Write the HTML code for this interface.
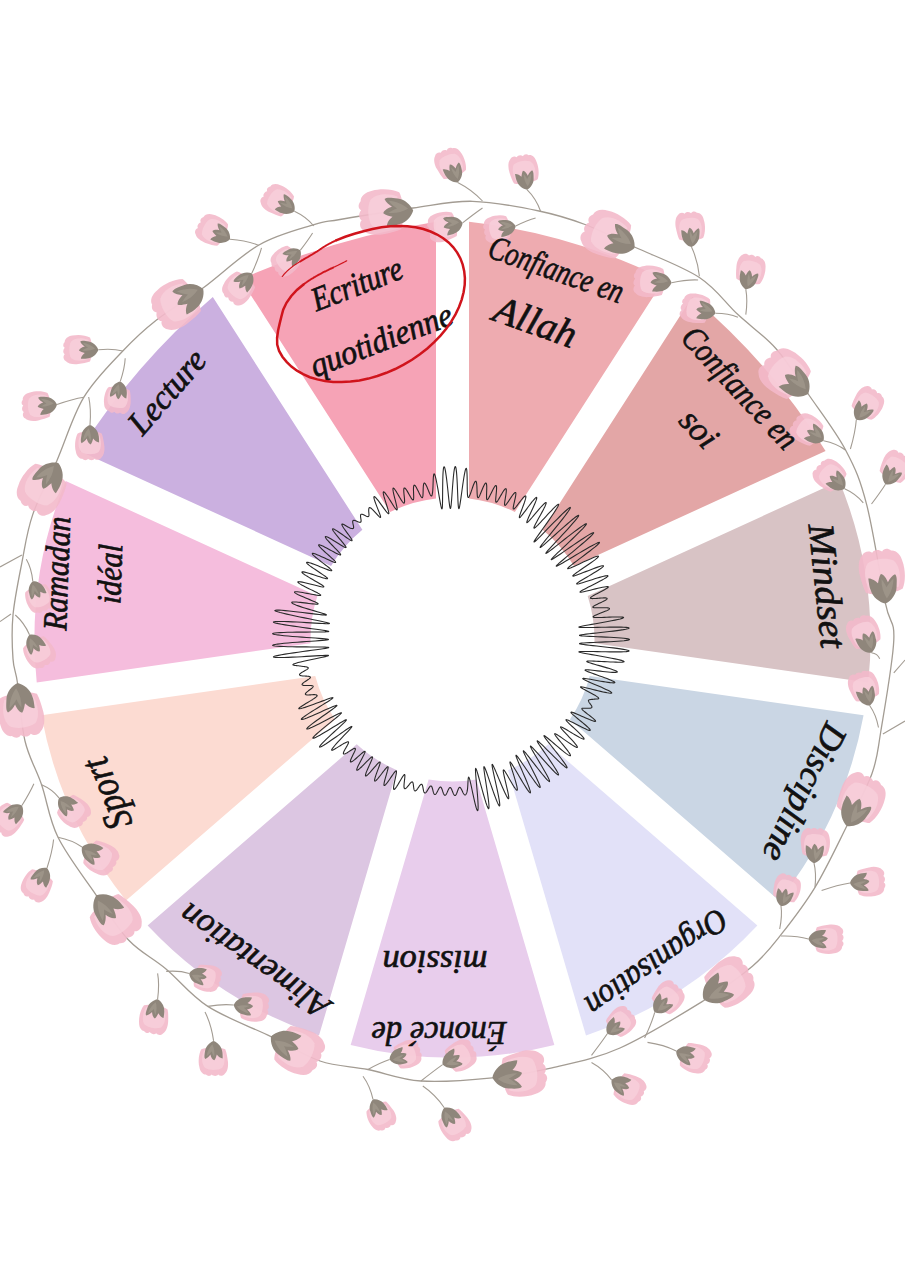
<!DOCTYPE html>
<html><head><meta charset="utf-8"><style>
html,body{margin:0;padding:0;background:#fff;width:905px;height:1280px;overflow:hidden}
svg{display:block}
</style></head><body>
<svg width="905" height="1280" viewBox="0 0 905 1280">
<rect width="905" height="1280" fill="#ffffff"/>
<path d="M469.00,498.46 L469.00,221.83 A600,600 0 0 1 664.43,279.21 L514.87,511.93 A142.0,142.0 0 0 0 469.00,498.46 Z" fill="#EEABB0"/>
<path d="M542.63,529.77 L692.19,297.05 A650,650 0 0 1 825.58,450.98 L573.94,565.90 A142.0,142.0 0 0 0 542.63,529.77 Z" fill="#E3A6A6"/>
<path d="M587.65,595.92 L839.28,481.00 A418.0,418.0 0 0 1 868.27,682.61 L594.45,643.24 A142.0,142.0 0 0 0 587.65,595.92 Z" fill="#D8C3C5"/>
<path d="M589.75,675.90 L863.57,715.27 A418.0,418.0 0 0 1 778.96,900.55 L569.89,719.39 A142.0,142.0 0 0 0 589.75,675.90 Z" fill="#CAD6E4"/>
<path d="M548.28,744.33 L757.35,925.49 A418.0,418.0 0 0 1 586.00,1035.61 L508.07,770.18 A142.0,142.0 0 0 0 548.28,744.33 Z" fill="#E2E1F8"/>
<path d="M476.40,779.47 L554.34,1044.90 A418.0,418.0 0 0 1 350.66,1044.90 L428.60,779.47 A142.0,142.0 0 0 0 476.40,779.47 Z" fill="#E8CDEC"/>
<path d="M396.93,770.18 L319.00,1035.61 A418.0,418.0 0 0 1 147.65,925.49 L356.72,744.33 A142.0,142.0 0 0 0 396.93,770.18 Z" fill="#DCC6E2"/>
<path d="M335.11,719.39 L126.04,900.55 A418.0,418.0 0 0 1 41.43,715.27 L315.25,675.90 A142.0,142.0 0 0 0 335.11,719.39 Z" fill="#FCDBD2"/>
<path d="M310.55,643.24 L36.73,682.61 A418.0,418.0 0 0 1 65.72,481.00 L317.35,595.92 A142.0,142.0 0 0 0 310.55,643.24 Z" fill="#F5BDDD"/>
<path d="M331.06,565.90 L79.42,450.98 A700,700 0 0 1 212.81,297.05 L362.37,529.77 A142.0,142.0 0 0 0 331.06,565.90 Z" fill="#CBB0E0"/>
<path d="M390.13,511.93 L240.57,279.21 A800,800 0 0 1 436.00,221.83 L436.00,498.46 A142.0,142.0 0 0 0 390.13,511.93 Z" fill="#F6A3B6"/>
<path d="M452.50,487.50 L452.77,483.96 L453.05,480.53 L453.35,477.29 L453.65,474.35 L453.96,471.78 L454.28,469.66 L454.59,468.06 L454.91,467.01 L455.22,466.54 L455.52,466.68 L455.80,467.42 L456.08,468.73 L456.33,470.58 L456.57,472.91 L456.79,475.66 L456.99,478.75 L457.17,482.10 L457.34,485.60 L457.49,489.16 L457.63,492.67 L457.76,496.04 L457.89,499.16 L458.02,501.96 L458.16,504.35 L458.32,506.25 L458.49,507.63 L458.68,508.44 L458.90,508.65 L459.15,508.26 L459.43,507.29 L459.74,505.75 L460.09,503.70 L460.47,501.20 L460.89,498.31 L461.33,495.12 L461.80,491.73 L462.28,488.22 L462.78,484.70 L463.29,481.27 L463.79,478.04 L464.28,475.10 L464.76,472.60 L465.20,470.61 L465.60,469.22 L465.96,468.46 L466.27,468.34 L466.53,468.85 L466.74,469.94 L466.90,471.55 L467.01,473.59 L467.10,475.96 L467.15,478.56 L467.18,481.26 L467.20,483.96 L467.23,486.57 L467.26,488.99 L467.31,491.17 L467.38,493.05 L467.47,494.61 L467.60,495.82 L467.76,496.69 L467.95,497.25 L468.18,497.51 L468.43,497.51 L468.70,497.29 L469.00,496.88 L469.32,496.31 L469.66,495.60 L470.01,494.77 L470.38,493.84 L470.77,492.79 L471.18,491.62 L471.60,490.37 L472.04,489.07 L472.48,487.77 L472.92,486.49 L473.35,485.28 L473.78,484.18 L474.19,483.21 L474.58,482.41 L474.94,481.80 L475.28,481.39 L475.59,481.20 L475.87,481.24 L476.11,481.51 L476.32,481.99 L476.50,482.69 L476.64,483.56 L476.76,484.61 L476.85,485.78 L476.92,487.06 L476.97,488.41 L477.02,489.79 L477.06,491.16 L477.10,492.48 L477.16,493.71 L477.23,494.84 L477.32,495.81 L477.44,496.61 L477.59,497.21 L477.78,497.60 L478.00,497.78 L478.27,497.72 L478.57,497.45 L478.92,496.96 L479.30,496.27 L479.73,495.41 L480.18,494.40 L480.66,493.27 L481.16,492.06 L481.67,490.80 L482.20,489.52 L482.72,488.27 L483.23,487.09 L483.73,486.00 L484.21,485.04 L484.65,484.25 L485.06,483.64 L485.43,483.23 L485.76,483.04 L486.04,483.07 L486.27,483.33 L486.45,483.80 L486.58,484.48 L486.68,485.34 L486.73,486.38 L486.75,487.54 L486.73,488.81 L486.70,490.16 L486.66,491.53 L486.61,492.90 L486.57,494.23 L486.54,495.48 L486.54,496.62 L486.56,497.61 L486.63,498.44 L486.73,499.08 L486.89,499.50 L487.09,499.71 L487.36,499.70 L487.67,499.47 L488.04,499.03 L488.47,498.39 L488.94,497.58 L489.45,496.62 L490.00,495.53 L490.58,494.36 L491.17,493.14 L491.77,491.90 L492.38,490.68 L492.97,489.52 L493.54,488.46 L494.08,487.52 L494.58,486.73 L495.03,486.13 L495.44,485.72 L495.78,485.53 L496.06,485.55 L496.28,485.80 L496.44,486.26 L496.54,486.92 L496.58,487.77 L496.57,488.79 L496.52,489.94 L496.43,491.20 L496.31,492.53 L496.18,493.90 L496.05,495.26 L495.92,496.59 L495.81,497.85 L495.72,499.00 L495.68,500.01 L495.68,500.86 L495.74,501.52 L495.86,501.98 L496.04,502.23 L496.30,502.26 L496.62,502.08 L497.01,501.68 L497.47,501.09 L497.99,500.33 L498.56,499.42 L499.17,498.39 L499.82,497.26 L500.49,496.08 L501.17,494.88 L501.85,493.70 L502.52,492.58 L503.16,491.54 L503.76,490.62 L504.32,489.85 L504.82,489.26 L505.25,488.86 L505.62,488.66 L505.91,488.68 L506.12,488.91 L506.26,489.36 L506.32,490.01 L506.31,490.84 L506.25,491.83 L506.12,492.97 L505.96,494.21 L505.76,495.52 L505.54,496.88 L505.32,498.23 L505.10,499.56 L504.90,500.81 L504.74,501.97 L504.63,502.99 L504.57,503.86 L504.57,504.55 L504.66,505.04 L504.81,505.32 L505.06,505.39 L505.38,505.25 L505.79,504.90 L506.28,504.37 L506.83,503.66 L507.45,502.80 L508.13,501.82 L508.84,500.75 L509.58,499.62 L510.34,498.47 L511.10,497.33 L511.84,496.24 L512.55,495.24 L513.22,494.35 L513.83,493.60 L514.38,493.02 L514.85,492.62 L515.23,492.43 L515.53,492.44 L515.74,492.66 L515.86,493.09 L515.89,493.72 L515.84,494.53 L515.71,495.50 L515.52,496.61 L515.28,497.83 L515.00,499.12 L514.70,500.46 L514.39,501.80 L514.08,503.11 L513.80,504.36 L513.56,505.52 L513.37,506.55 L513.25,507.43 L513.20,508.13 L513.24,508.65 L513.37,508.96 L513.60,509.07 L513.92,508.98 L514.34,508.68 L514.85,508.20 L515.44,507.54 L516.11,506.74 L516.84,505.82 L517.61,504.81 L518.43,503.73 L519.25,502.63 L520.09,501.54 L520.91,500.48 L521.71,499.47 L522.47,498.54 L523.19,497.71 L523.85,497.01 L524.44,496.46 L524.95,496.08 L525.36,495.89 L525.65,495.93 L525.83,496.19 L525.89,496.70 L525.82,497.45 L525.62,498.45 L525.29,499.67 L524.85,501.10 L524.32,502.71 L523.70,504.45 L523.03,506.28 L522.34,508.15 L521.65,510.00 L521.00,511.76 L520.41,513.37 L519.93,514.79 L519.57,515.97 L519.37,516.85 L519.34,517.41 L519.50,517.62 L519.85,517.49 L520.39,517.02 L521.10,516.25 L521.97,515.20 L522.98,513.91 L524.10,512.43 L525.32,510.80 L526.60,509.07 L527.91,507.29 L529.23,505.52 L530.53,503.81 L531.76,502.21 L532.91,500.78 L533.95,499.55 L534.85,498.57 L535.60,497.87 L536.17,497.46 L536.55,497.38 L536.75,497.61 L536.75,498.17 L536.57,499.03 L536.21,500.18 L535.69,501.59 L535.03,503.22 L534.25,505.04 L533.39,506.98 L532.46,509.01 L531.51,511.06 L530.57,513.09 L529.67,515.04 L528.84,516.85 L528.12,518.48 L527.53,519.89 L527.10,521.04 L526.84,521.90 L526.78,522.45 L526.92,522.68 L527.27,522.58 L527.83,522.17 L528.58,521.45 L529.52,520.45 L530.62,519.21 L531.86,517.76 L533.22,516.14 L534.66,514.42 L536.15,512.64 L537.64,510.86 L539.12,509.13 L540.53,507.51 L541.84,506.05 L543.02,504.79 L544.05,503.78 L544.89,503.04 L545.53,502.61 L545.96,502.50 L546.16,502.71 L546.14,503.26 L545.90,504.11 L545.45,505.27 L544.81,506.68 L544.01,508.33 L543.07,510.16 L542.02,512.13 L540.90,514.18 L539.76,516.26 L538.62,518.32 L537.53,520.30 L536.52,522.14 L535.64,523.80 L534.91,525.24 L534.36,526.41 L534.02,527.30 L533.89,527.89 L533.97,528.19 L534.26,528.19 L534.78,527.89 L535.52,527.30 L536.48,526.42 L537.64,525.28 L538.99,523.89 L540.51,522.28 L542.18,520.49 L543.97,518.56 L545.84,516.53 L547.74,514.48 L549.64,512.45 L551.48,510.51 L553.21,508.72 L554.78,507.16 L556.15,505.88 L557.25,504.94 L558.06,504.39 L558.53,504.28 L558.64,504.62 L558.37,505.44 L557.73,506.74 L556.71,508.48 L555.36,510.65 L553.69,513.19 L551.77,516.04 L549.64,519.11 L547.39,522.33 L545.08,525.58 L542.80,528.78 L540.63,531.82 L538.66,534.61 L536.95,537.06 L535.57,539.08 L534.59,540.62 L534.05,541.62 L533.98,542.06 L534.38,541.92 L535.25,541.24 L536.55,540.04 L538.26,538.37 L540.34,536.29 L542.73,533.85 L545.38,531.14 L548.20,528.24 L551.14,525.23 L554.10,522.21 L557.02,519.27 L559.81,516.49 L562.39,513.97 L564.71,511.77 L566.69,509.97 L568.29,508.62 L569.46,507.76 L570.18,507.42 L570.42,507.61 L570.19,508.33 L569.49,509.57 L568.35,511.29 L566.80,513.44 L564.90,515.97 L562.70,518.82 L560.27,521.89 L557.68,525.12 L555.02,528.40 L552.36,531.66 L549.79,534.81 L547.38,537.75 L545.22,540.42 L543.36,542.74 L541.88,544.65 L540.82,546.11 L540.21,547.07 L540.08,547.53 L540.45,547.47 L541.31,546.89 L542.63,545.84 L544.40,544.33 L546.57,542.43 L549.08,540.19 L551.86,537.68 L554.85,534.98 L557.97,532.17 L561.12,529.35 L564.23,526.59 L567.22,523.98 L569.99,521.60 L572.48,519.52 L574.62,517.81 L576.35,516.51 L577.63,515.67 L578.42,515.32 L578.71,515.47 L578.49,516.12 L577.77,517.26 L576.57,518.85 L574.93,520.85 L572.91,523.22 L570.56,525.88 L567.96,528.78 L565.19,531.81 L562.32,534.92 L559.45,538.01 L556.67,540.99 L554.05,543.80 L551.69,546.36 L549.65,548.59 L547.99,550.45 L546.78,551.89 L546.06,552.86 L545.84,553.36 L546.15,553.38 L546.99,552.92 L548.33,552.00 L550.14,550.66 L552.38,548.94 L554.99,546.89 L557.90,544.60 L561.04,542.11 L564.32,539.52 L567.65,536.91 L570.94,534.34 L574.11,531.91 L577.06,529.69 L579.72,527.74 L582.01,526.12 L583.87,524.90 L585.26,524.09 L586.13,523.74 L586.47,523.86 L586.27,524.44 L585.53,525.48 L584.29,526.94 L582.58,528.79 L580.45,530.99 L577.97,533.47 L575.21,536.16 L572.26,539.01 L569.21,541.92 L566.14,544.82 L563.15,547.63 L560.34,550.29 L557.78,552.72 L555.55,554.85 L553.74,556.64 L552.38,558.04 L551.53,559.02 L551.22,559.55 L551.47,559.64 L552.27,559.28 L553.60,558.50 L555.44,557.32 L557.74,555.79 L560.44,553.95 L563.46,551.87 L566.73,549.61 L570.16,547.24 L573.65,544.85 L577.11,542.49 L580.45,540.25 L583.57,538.20 L586.39,536.39 L588.82,534.89 L590.82,533.75 L592.31,532.99 L593.27,532.65 L593.67,532.74 L593.49,533.26 L592.75,534.19 L591.48,535.53 L589.70,537.23 L587.48,539.25 L584.89,541.54 L581.99,544.03 L578.88,546.66 L575.65,549.37 L572.40,552.07 L569.22,554.70 L566.21,557.19 L563.47,559.47 L561.06,561.49 L559.08,563.19 L557.58,564.55 L556.61,565.51 L556.20,566.08 L556.37,566.22 L557.13,565.96 L558.45,565.31 L560.31,564.29 L562.65,562.95 L565.41,561.31 L568.53,559.46 L571.92,557.43 L575.47,555.30 L579.11,553.13 L582.73,551.00 L586.22,548.96 L589.50,547.09 L592.45,545.46 L594.98,544.12 L597.01,543.13 L598.46,542.52 L599.32,542.32 L599.55,542.54 L599.18,543.15 L598.22,544.14 L596.74,545.47 L594.81,547.09 L592.50,548.93 L589.91,550.95 L587.14,553.06 L584.29,555.22 L581.45,557.35 L578.72,559.40 L576.17,561.32 L573.88,563.06 L571.90,564.60 L570.27,565.91 L569.02,566.97 L568.17,567.78 L567.72,568.34 L567.66,568.65 L567.99,568.73 L568.68,568.58 L569.71,568.24 L571.05,567.71 L572.67,567.01 L574.54,566.17 L576.63,565.21 L578.91,564.15 L581.31,563.02 L583.77,561.87 L586.22,560.74 L588.59,559.65 L590.83,558.67 L592.87,557.80 L594.65,557.10 L596.14,556.57 L597.28,556.25 L598.05,556.14 L598.43,556.26 L598.41,556.61 L598.00,557.18 L597.21,557.96 L596.06,558.94 L594.60,560.08 L592.87,561.37 L590.91,562.78 L588.79,564.26 L586.58,565.79 L584.33,567.32 L582.13,568.82 L580.03,570.26 L578.09,571.59 L576.39,572.79 L574.96,573.84 L573.87,574.70 L573.13,575.36 L572.78,575.82 L572.83,576.06 L573.28,576.09 L574.13,575.91 L575.36,575.55 L576.92,575.00 L578.80,574.31 L580.92,573.50 L583.25,572.59 L585.70,571.63 L588.23,570.64 L590.75,569.66 L593.20,568.73 L595.52,567.88 L597.64,567.14 L599.50,566.53 L601.05,566.08 L602.25,565.81 L603.07,565.74 L603.49,565.86 L603.50,566.18 L603.09,566.70 L602.30,567.41 L601.13,568.29 L599.63,569.32 L597.85,570.48 L595.83,571.75 L593.63,573.09 L591.33,574.47 L588.99,575.85 L586.69,577.21 L584.48,578.52 L582.44,579.73 L580.63,580.84 L579.11,581.80 L577.92,582.61 L577.10,583.24 L576.67,583.70 L576.66,583.96 L577.06,584.04 L577.88,583.94 L579.08,583.67 L580.64,583.25 L582.52,582.70 L584.67,582.03 L587.02,581.29 L589.53,580.49 L592.11,579.66 L594.69,578.85 L597.21,578.07 L599.60,577.36 L601.79,576.75 L603.71,576.25 L605.33,575.88 L606.59,575.68 L607.46,575.63 L607.91,575.76 L607.95,576.06 L607.56,576.54 L606.77,577.17 L605.59,577.96 L604.06,578.88 L602.23,579.91 L600.16,581.04 L597.90,582.22 L595.53,583.45 L593.10,584.68 L590.71,585.89 L588.40,587.06 L586.27,588.15 L584.36,589.15 L582.74,590.03 L581.46,590.77 L580.55,591.37 L580.05,591.81 L579.97,592.09 L580.32,592.22 L581.10,592.19 L582.27,592.01 L583.82,591.70 L585.71,591.28 L587.89,590.76 L590.30,590.16 L592.83,589.53 L595.40,588.90 L597.92,588.29 L600.30,587.74 L602.47,587.28 L604.35,586.92 L605.90,586.68 L607.08,586.58 L607.87,586.61 L608.27,586.77 L608.30,587.07 L607.97,587.48 L607.33,587.99 L606.43,588.59 L605.31,589.26 L604.03,589.97 L602.65,590.71 L601.21,591.47 L599.76,592.22 L598.34,592.96 L596.98,593.67 L595.70,594.35 L594.54,594.99 L593.49,595.59 L592.57,596.14 L591.80,596.65 L591.17,597.11 L590.71,597.51 L590.46,597.85 L590.43,598.12 L590.61,598.33 L591.01,598.47 L591.62,598.56 L592.41,598.59 L593.38,598.57 L594.50,598.51 L595.73,598.43 L597.05,598.33 L598.41,598.21 L599.78,598.10 L601.13,598.00 L602.41,597.93 L603.60,597.88 L604.65,597.88 L605.55,597.92 L606.27,598.01 L606.78,598.16 L607.09,598.37 L607.17,598.63 L607.03,598.96 L606.68,599.34 L606.12,599.77 L605.37,600.25 L604.47,600.76 L603.42,601.31 L602.28,601.88 L601.07,602.46 L599.82,603.04 L598.58,603.62 L597.38,604.18 L596.26,604.72 L595.25,605.23 L594.38,605.70 L593.69,606.12 L593.18,606.50 L592.89,606.83 L592.81,607.11 L592.96,607.33 L593.32,607.51 L593.90,607.63 L594.67,607.72 L595.62,607.77 L596.72,607.79 L597.94,607.79 L599.26,607.77 L600.62,607.75 L602.00,607.72 L603.35,607.71 L604.65,607.71 L605.85,607.74 L606.92,607.80 L607.83,607.90 L608.56,608.03 L609.09,608.21 L609.40,608.43 L609.49,608.70 L609.36,609.01 L609.00,609.36 L608.44,609.75 L607.69,610.18 L606.77,610.63 L605.71,611.10 L604.54,611.60 L603.30,612.10 L602.02,612.60 L600.74,613.10 L599.50,613.58 L598.32,614.05 L597.21,614.50 L596.19,614.94 L595.27,615.35 L594.48,615.74 L593.84,616.10 L593.38,616.43 L593.13,616.72 L593.13,616.98 L593.40,617.18 L593.97,617.35 L594.87,617.46 L596.10,617.53 L597.67,617.55 L599.55,617.52 L601.72,617.46 L604.13,617.38 L606.73,617.27 L609.43,617.16 L612.16,617.06 L614.81,616.98 L617.28,616.93 L619.47,616.93 L621.28,616.98 L622.62,617.10 L623.41,617.30 L623.59,617.58 L623.13,617.94 L622.01,618.39 L620.23,618.91 L617.84,619.49 L614.90,620.14 L611.49,620.82 L607.73,621.54 L603.73,622.27 L599.65,622.99 L595.61,623.70 L591.76,624.37 L588.25,624.99 L585.19,625.55 L582.68,626.05 L580.76,626.47 L579.50,626.82 L578.93,627.10 L579.08,627.31 L579.92,627.45 L581.46,627.54 L583.63,627.57 L586.38,627.55 L589.64,627.50 L593.30,627.43 L597.27,627.34 L601.43,627.26 L605.66,627.18 L609.85,627.12 L613.87,627.08 L617.61,627.09 L620.97,627.13 L623.84,627.22 L626.15,627.36 L627.83,627.55 L628.83,627.79 L629.13,628.08 L628.71,628.41 L627.59,628.79 L625.80,629.20 L623.40,629.65 L620.44,630.11 L617.02,630.59 L613.24,631.08 L609.20,631.56 L605.02,632.04 L600.81,632.51 L596.71,632.95 L592.82,633.37 L589.26,633.77 L586.14,634.13 L583.53,634.47 L581.52,634.77 L580.16,635.04 L579.50,635.29 L579.55,635.51 L580.31,635.71 L581.76,635.89 L583.85,636.06 L586.54,636.22 L589.73,636.39 L593.35,636.55 L597.29,636.72 L601.43,636.90 L605.66,637.09 L609.85,637.30 L613.89,637.53 L617.66,637.77 L621.06,638.03 L623.98,638.30 L626.34,638.59 L628.08,638.89 L629.14,639.19 L629.50,639.50 L629.14,639.81 L628.08,640.11 L626.34,640.41 L623.98,640.70 L621.06,640.97 L617.66,641.23 L613.89,641.47 L609.85,641.70 L605.66,641.91 L601.43,642.10 L597.29,642.28 L593.35,642.45 L589.73,642.61 L586.54,642.78 L583.85,642.94 L581.76,643.11 L580.31,643.29 L579.55,643.49 L579.50,643.71 L580.16,643.96 L581.52,644.23 L583.53,644.53 L586.14,644.87 L589.26,645.23 L592.82,645.63 L596.71,646.05 L600.81,646.49 L605.02,646.96 L609.20,647.44 L613.24,647.92 L617.02,648.41 L620.44,648.89 L623.40,649.35 L625.80,649.80 L627.59,650.21 L628.71,650.59 L629.13,650.92 L628.83,651.21 L627.83,651.45 L626.15,651.64 L623.84,651.78 L620.97,651.87 L617.61,651.91 L613.87,651.92 L609.85,651.88 L605.66,651.82 L601.43,651.74 L597.27,651.66 L593.30,651.57 L589.64,651.50 L586.38,651.45 L583.63,651.43 L581.46,651.46 L579.92,651.55 L579.08,651.69 L578.93,651.90 L579.50,652.18 L580.76,652.53 L582.68,652.95 L585.19,653.45 L588.25,654.01 L591.76,654.63 L595.60,655.30 L599.64,656.00 L603.73,656.73 L607.74,657.46 L611.52,658.18 L614.96,658.87 L617.95,659.52 L620.41,660.12 L622.27,660.65 L623.49,661.10 L624.07,661.48 L624.01,661.78 L623.35,661.99 L622.13,662.13 L620.42,662.20 L618.29,662.21 L615.83,662.16 L613.13,662.07 L610.26,661.95 L607.31,661.81 L604.36,661.65 L601.47,661.50 L598.72,661.35 L596.15,661.22 L593.81,661.12 L591.74,661.06 L589.98,661.03 L588.55,661.05 L587.50,661.12 L586.89,661.27 L586.72,661.48 L587.01,661.77 L587.73,662.13 L588.88,662.57 L590.41,663.07 L592.27,663.64 L594.43,664.27 L596.80,664.94 L599.33,665.65 L601.93,666.39 L604.54,667.13 L607.07,667.87 L609.46,668.59 L611.63,669.28 L613.52,669.93 L615.08,670.51 L616.25,671.03 L617.01,671.48 L617.33,671.84 L617.20,672.11 L616.63,672.30 L615.62,672.39 L614.21,672.40 L612.44,672.33 L610.35,672.19 L608.01,671.99 L605.47,671.74 L602.81,671.45 L600.11,671.15 L597.44,670.84 L594.88,670.54 L592.49,670.28 L590.34,670.06 L588.50,669.90 L587.01,669.81 L585.92,669.81 L585.25,669.90 L585.02,670.09 L585.23,670.39 L585.88,670.78 L586.95,671.28 L588.40,671.88 L590.20,672.56 L592.28,673.32 L594.58,674.14 L597.04,675.00 L599.59,675.90 L602.15,676.81 L604.64,677.71 L606.99,678.59 L609.14,679.43 L611.02,680.20 L612.58,680.90 L613.76,681.50 L614.53,682.01 L614.88,682.40 L614.79,682.68 L614.25,682.84 L613.29,682.88 L611.92,682.81 L610.20,682.64 L608.15,682.37 L605.85,682.03 L603.35,681.62 L600.73,681.17 L598.06,680.69 L595.41,680.21 L592.85,679.74 L590.46,679.32 L588.30,678.95 L586.44,678.67 L584.92,678.47 L583.78,678.39 L583.06,678.42 L582.76,678.58 L582.91,678.87 L583.49,679.30 L584.48,679.85 L585.85,680.52 L587.55,681.31 L589.55,682.19 L591.78,683.15 L594.16,684.17 L596.64,685.22 L599.14,686.30 L601.58,687.36 L603.89,688.40 L606.00,689.38 L607.86,690.28 L609.41,691.09 L610.59,691.78 L611.38,692.35 L611.75,692.78 L611.68,693.07 L611.19,693.21 L610.27,693.21 L608.96,693.07 L607.28,692.80 L605.29,692.41 L603.05,691.93 L600.60,691.36 L598.02,690.75 L595.39,690.10 L592.77,689.45 L590.23,688.81 L587.85,688.23 L585.69,687.72 L583.82,687.30 L582.30,687.00 L581.22,686.86 L580.62,686.89 L580.50,687.10 L580.86,687.49 L581.66,688.05 L582.84,688.75 L584.34,689.58 L586.06,690.50 L587.92,691.48 L589.83,692.49 L591.69,693.49 L593.43,694.45 L594.98,695.34 L596.29,696.14 L597.32,696.84 L598.06,697.43 L598.51,697.90 L598.70,698.27 L598.64,698.54 L598.38,698.74 L597.97,698.87 L597.45,698.95 L596.85,699.00 L596.23,699.04 L595.61,699.07 L595.00,699.11 L594.42,699.16 L593.86,699.21 L593.32,699.27 L592.76,699.33 L592.19,699.37 L591.62,699.41 L591.07,699.46 L590.54,699.52 L590.05,699.59 L589.61,699.69 L589.23,699.81 L588.92,699.95 L588.68,700.13 L588.51,700.34 L588.43,700.59 L588.42,700.87 L588.49,701.19 L588.62,701.53 L588.82,701.91 L589.07,702.31 L589.36,702.74 L589.68,703.18 L590.02,703.63 L590.37,704.08 L590.71,704.54 L591.03,704.98 L591.31,705.41 L591.56,705.83 L591.74,706.21 L591.87,706.57 L591.93,706.90 L591.91,707.19 L591.81,707.45 L591.64,707.66 L591.39,707.84 L591.07,707.98 L590.68,708.09 L590.24,708.17 L589.74,708.23 L589.21,708.26 L588.66,708.28 L588.09,708.29 L587.51,708.29 L586.95,708.30 L586.38,708.30 L585.79,708.30 L585.19,708.28 L584.58,708.26 L583.97,708.23 L583.39,708.22 L582.85,708.22 L582.39,708.27 L582.04,708.38 L581.84,708.56 L581.82,708.84 L582.01,709.23 L582.42,709.74 L583.05,710.38 L583.92,711.15 L584.98,712.03 L586.22,713.02 L587.59,714.07 L589.03,715.18 L590.48,716.30 L591.86,717.39 L593.12,718.41 L594.17,719.33 L594.97,720.11 L595.46,720.71 L595.61,721.13 L595.40,721.34 L594.82,721.34 L593.89,721.13 L592.66,720.75 L591.18,720.21 L589.50,719.56 L587.66,718.80 L585.70,717.96 L583.68,717.08 L581.66,716.19 L579.69,715.32 L577.81,714.50 L576.08,713.76 L574.55,713.13 L573.25,712.63 L572.22,712.29 L571.48,712.13 L571.05,712.15 L570.94,712.36 L571.13,712.77 L571.64,713.37 L572.43,714.15 L573.47,715.09 L574.74,716.18 L576.20,717.40 L577.79,718.70 L579.46,720.07 L581.17,721.47 L582.87,722.87 L584.49,724.24 L585.99,725.53 L587.33,726.72 L588.45,727.79 L589.33,728.70 L589.94,729.44 L590.25,729.98 L590.25,730.33 L589.94,730.47 L589.33,730.41 L588.43,730.15 L587.25,729.71 L585.84,729.10 L584.22,728.35 L582.45,727.48 L580.56,726.53 L578.61,725.53 L576.65,724.51 L574.72,723.50 L572.89,722.55 L571.20,721.69 L569.69,720.95 L568.40,720.35 L567.36,719.93 L566.60,719.69 L566.13,719.66 L565.97,719.84 L566.11,720.24 L566.54,720.84 L567.25,721.65 L568.20,722.64 L569.38,723.79 L570.73,725.09 L572.22,726.48 L573.80,727.95 L575.41,729.46 L577.02,730.97 L578.56,732.44 L579.99,733.84 L581.26,735.13 L582.34,736.28 L583.19,737.27 L583.78,738.07 L584.08,738.66 L584.10,739.03 L583.82,739.17 L583.24,739.10 L582.39,738.81 L581.27,738.31 L579.93,737.63 L578.38,736.79 L576.68,735.83 L574.87,734.76 L572.99,733.64 L571.10,732.49 L569.24,731.36 L567.46,730.29 L565.81,729.31 L564.33,728.45 L563.05,727.75 L562.01,727.24 L561.24,726.93 L560.74,726.84 L560.54,726.99 L560.62,727.36 L560.98,727.97 L561.60,728.80 L562.47,729.83 L563.54,731.04 L564.79,732.40 L566.18,733.88 L567.65,735.44 L569.16,737.04 L570.67,738.65 L572.12,740.23 L573.47,741.73 L574.68,743.11 L575.70,744.35 L576.51,745.41 L577.07,746.27 L577.37,746.91 L577.40,747.31 L577.14,747.46 L576.60,747.38 L575.79,747.06 L574.74,746.51 L573.46,745.77 L572.00,744.85 L570.38,743.79 L568.65,742.62 L566.85,741.38 L565.04,740.12 L563.25,738.87 L561.53,737.67 L559.93,736.57 L558.49,735.60 L557.23,734.80 L556.21,734.20 L555.43,733.81 L554.91,733.67 L554.66,733.77 L554.68,734.12 L554.97,734.72 L555.52,735.56 L556.29,736.62 L557.26,737.88 L558.41,739.30 L559.68,740.85 L561.04,742.50 L562.44,744.20 L563.85,745.90 L565.20,747.58 L566.46,749.17 L567.60,750.65 L568.57,751.98 L569.37,753.15 L569.97,754.13 L570.35,754.91 L570.50,755.46 L570.40,755.77 L570.04,755.82 L569.41,755.60 L568.52,755.11 L567.36,754.36 L565.94,753.34 L564.30,752.08 L562.46,750.61 L560.45,748.97 L558.33,747.20 L556.15,745.35 L553.98,743.49 L551.87,741.68 L549.88,739.99 L548.10,738.49 L546.57,737.25 L545.35,736.32 L544.48,735.75 L543.99,735.58 L543.91,735.83 L544.24,736.51 L544.96,737.61 L546.04,739.11 L547.45,740.97 L549.14,743.13 L551.02,745.52 L553.04,748.08 L555.13,750.72 L557.22,753.38 L559.25,756.00 L561.16,758.50 L562.88,760.81 L564.36,762.87 L565.56,764.63 L566.43,766.04 L566.95,767.06 L567.10,767.67 L566.87,767.86 L566.25,767.63 L565.28,766.97 L563.96,765.92 L562.33,764.52 L560.44,762.80 L558.33,760.81 L556.06,758.63 L553.68,756.31 L551.27,753.93 L548.89,751.56 L546.58,749.27 L544.43,747.14 L542.48,745.22 L540.77,743.59 L539.36,742.29 L538.28,741.37 L537.54,740.85 L537.17,740.77 L537.17,741.12 L537.52,741.91 L538.22,743.11 L539.23,744.71 L540.52,746.65 L542.04,748.90 L543.75,751.39 L545.59,754.05 L547.50,756.81 L549.42,759.61 L551.28,762.36 L553.04,764.99 L554.63,767.43 L556.00,769.62 L557.12,771.49 L557.93,773.00 L558.42,774.10 L558.57,774.78 L558.36,775.00 L557.81,774.77 L556.91,774.11 L555.70,773.02 L554.20,771.55 L552.44,769.75 L550.49,767.66 L548.38,765.35 L546.17,762.90 L543.91,760.37 L541.68,757.84 L539.52,755.40 L537.49,753.11 L535.64,751.04 L534.02,749.26 L532.66,747.83 L531.60,746.80 L530.87,746.18 L530.46,746.02 L530.40,746.32 L530.66,747.08 L531.25,748.28 L532.12,749.90 L533.25,751.88 L534.61,754.19 L536.14,756.75 L537.79,759.51 L539.51,762.39 L541.24,765.30 L542.94,768.18 L544.53,770.93 L545.98,773.50 L547.23,775.81 L548.25,777.79 L549.00,779.39 L549.46,780.57 L549.59,781.30 L549.41,781.57 L548.91,781.36 L548.09,780.69 L546.98,779.57 L545.61,778.06 L544.00,776.18 L542.20,774.00 L540.26,771.58 L538.22,769.00 L536.13,766.34 L534.06,763.67 L532.06,761.07 L530.16,758.63 L528.43,756.42 L526.90,754.51 L525.61,752.95 L524.59,751.79 L523.86,751.08 L523.43,750.84 L523.31,751.08 L523.50,751.80 L523.97,752.99 L524.71,754.61 L525.69,756.62 L526.87,758.98 L528.21,761.61 L529.67,764.45 L531.20,767.42 L532.74,770.44 L534.25,773.43 L535.68,776.30 L536.97,778.98 L538.10,781.40 L539.01,783.48 L539.69,785.18 L540.09,786.44 L540.22,787.23 L540.05,787.54 L539.59,787.35 L538.85,786.68 L537.85,785.55 L536.60,783.99 L535.14,782.06 L533.50,779.80 L531.73,777.28 L529.87,774.59 L527.97,771.80 L526.07,769.00 L524.22,766.27 L522.48,763.69 L520.87,761.34 L519.45,759.29 L518.24,757.61 L517.27,756.34 L516.55,755.53 L516.11,755.21 L515.94,755.38 L516.05,756.06 L516.41,757.22 L517.02,758.83 L517.85,760.86 L518.85,763.25 L520.01,765.93 L521.27,768.84 L522.60,771.89 L523.94,775.01 L525.26,778.09 L526.51,781.07 L527.65,783.86 L528.63,786.38 L529.43,788.56 L530.02,790.34 L530.37,791.68 L530.47,792.53 L530.32,792.89 L529.90,792.73 L529.24,792.07 L528.33,790.93 L527.21,789.34 L525.90,787.35 L524.42,785.03 L522.83,782.43 L521.16,779.64 L519.44,776.74 L517.73,773.83 L516.08,771.02 L514.55,768.43 L513.20,766.19 L512.06,764.37 L511.16,763.03 L510.51,762.22 L510.11,761.93 L509.95,762.14 L510.00,762.81 L510.24,763.88 L510.62,765.28 L511.11,766.92 L511.67,768.75 L512.28,770.68 L512.91,772.68 L513.55,774.70 L514.16,776.71 L514.76,778.69 L515.34,780.64 L515.88,782.52 L516.36,784.29 L516.77,785.90 L517.08,787.31 L517.27,788.47 L517.35,789.36 L517.30,789.95 L517.11,790.24 L516.78,790.21 L516.32,789.86 L515.74,789.22 L515.05,788.29 L514.25,787.12 L513.37,785.73 L512.43,784.17 L511.44,782.49 L510.42,780.73 L509.41,778.96 L508.42,777.21 L507.47,775.55 L506.58,774.03 L505.77,772.70 L505.06,771.58 L504.46,770.73 L503.97,770.16 L503.61,769.91 L503.37,769.96 L503.25,770.34 L503.25,771.03 L503.37,772.01 L503.57,773.24 L503.85,774.69 L504.21,776.34 L504.62,778.16 L505.08,780.13 L505.58,782.22 L506.10,784.39 L506.62,786.60 L507.14,788.81 L507.62,790.94 L508.05,792.94 L508.39,794.75 L508.64,796.29 L508.76,797.51 L508.74,798.33 L508.57,798.71 L508.22,798.62 L507.70,798.02 L507.01,796.91 L506.15,795.31 L505.14,793.25 L504.00,790.79 L502.76,787.99 L501.45,784.96 L500.11,781.79 L498.77,778.60 L497.48,775.51 L496.27,772.62 L495.17,770.05 L494.22,767.90 L493.43,766.23 L492.81,765.06 L492.37,764.44 L492.12,764.39 L492.04,764.91 L492.14,765.99 L492.40,767.60 L492.80,769.70 L493.33,772.23 L493.96,775.12 L494.67,778.29 L495.42,781.66 L496.19,785.12 L496.95,788.59 L497.66,791.96 L498.31,795.14 L498.86,798.05 L499.30,800.59 L499.61,802.70 L499.76,804.33 L499.76,805.42 L499.60,805.94 L499.27,805.89 L498.78,805.26 L498.14,804.08 L497.36,802.38 L496.46,800.21 L495.46,797.63 L494.38,794.72 L493.25,791.57 L492.08,788.26 L490.92,784.90 L489.77,781.58 L488.68,778.39 L487.66,775.44 L486.73,772.80 L485.91,770.56 L485.21,768.78 L484.66,767.52 L484.24,766.81 L483.97,766.67 L483.85,767.12 L483.86,768.14 L484.00,769.71 L484.26,771.77 L484.61,774.29 L485.04,777.17 L485.54,780.36 L486.07,783.75 L486.61,787.25 L487.14,790.76 L487.64,794.19 L488.09,797.43 L488.47,800.40 L488.75,803.01 L488.93,805.19 L489.00,806.88 L488.94,808.03 L488.75,808.61 L488.44,808.61 L488.01,808.02 L487.46,806.86 L486.81,805.17 L486.06,802.99 L485.24,800.40 L484.35,797.46 L483.42,794.26 L482.48,790.90 L481.53,787.47 L480.60,784.07 L479.71,780.80 L478.87,777.75 L478.11,775.02 L477.42,772.68 L476.84,770.81 L476.35,769.45 L475.97,768.65 L475.70,768.43 L475.53,768.80 L475.47,769.76 L475.50,771.27 L475.61,773.29 L475.79,775.77 L476.03,778.65 L476.32,781.82 L476.62,785.22 L476.94,788.74 L477.25,792.29 L477.53,795.75 L477.77,799.05 L477.96,802.07 L478.08,804.74 L478.13,806.98 L478.09,808.73 L477.97,809.94 L477.76,810.57 L477.46,810.61 L477.08,810.06 L476.61,808.93 L476.08,807.26 L475.47,805.06 L474.81,802.39 L474.11,799.36 L473.40,796.10 L472.68,792.77 L471.98,789.50 L471.32,786.42 L470.71,783.66 L470.16,781.31 L469.68,779.46 L469.28,778.14 L468.94,777.37 L468.67,777.14 L468.46,777.40 L468.29,778.10 L468.17,779.16 L468.07,780.49 L467.98,781.99 L467.90,783.58 L467.81,785.18 L467.71,786.71 L467.60,788.12 L467.46,789.37 L467.30,790.46 L467.12,791.38 L466.93,792.14 L466.72,792.77 L466.50,793.30 L466.27,793.76 L466.03,794.19 L465.79,794.55 L465.54,794.81 L465.28,794.95 L465.01,794.99 L464.73,794.91 L464.44,794.72 L464.15,794.42 L463.85,794.03 L463.54,793.55 L463.23,793.00 L462.92,792.40 L462.61,791.76 L462.30,791.11 L462.00,790.45 L461.69,789.82 L461.40,789.22 L461.10,788.69 L460.81,788.22 L460.53,787.84 L460.26,787.56 L459.99,787.39 L459.73,787.32 L459.47,787.38 L459.22,787.54 L458.98,787.81 L458.73,788.18 L458.49,788.65 L458.25,789.19 L458.01,789.79 L457.77,790.44 L457.53,791.12 L457.29,791.80 L457.04,792.47 L456.79,793.12 L456.54,793.71 L456.28,794.24 L456.02,794.69 L455.76,795.05 L455.49,795.30 L455.22,795.45 L454.95,795.48 L454.68,795.39 L454.40,795.19 L454.13,794.89 L453.85,794.49 L453.58,794.00 L453.31,793.44 L453.04,792.83 L452.77,792.17 L452.50,791.50 L452.24,790.83 L451.97,790.17 L451.71,789.55 L451.46,788.99 L451.20,788.50 L450.94,788.09 L450.69,787.78 L450.43,787.58 L450.18,787.49 L449.92,787.51 L449.66,787.64 L449.39,787.88 L449.12,788.23 L448.85,788.67 L448.58,789.18 L448.30,789.76 L448.02,790.39 L447.74,791.05 L447.45,791.72 L447.16,792.37 L446.87,793.00 L446.58,793.59 L446.29,794.11 L446.00,794.55 L445.72,794.90 L445.43,795.15 L445.15,795.29 L444.88,795.31 L444.61,795.22 L444.35,795.02 L444.09,794.71 L443.85,794.30 L443.60,793.81 L443.37,793.24 L443.14,792.61 L442.91,791.95 L442.69,791.26 L442.47,790.57 L442.25,789.89 L442.03,789.26 L441.81,788.67 L441.58,788.16 L441.36,787.72 L441.12,787.39 L440.88,787.15 L440.63,787.03 L440.37,787.02 L440.10,787.13 L439.83,787.34 L439.54,787.66 L439.24,788.07 L438.93,788.56 L438.62,789.11 L438.30,789.71 L437.97,790.35 L437.65,791.00 L437.31,791.64 L436.98,792.25 L436.66,792.82 L436.33,793.33 L436.01,793.76 L435.70,794.10 L435.41,794.34 L435.12,794.48 L434.84,794.50 L434.58,794.40 L434.33,794.20 L434.09,793.88 L433.87,793.47 L433.66,792.97 L433.46,792.40 L433.26,791.76 L433.08,791.09 L432.90,790.39 L432.73,789.68 L432.55,788.99 L432.38,788.34 L432.19,787.73 L432.01,787.19 L431.81,786.74 L431.60,786.37 L431.37,786.11 L431.13,785.96 L430.88,785.93 L430.61,786.00 L430.32,786.18 L430.01,786.47 L429.69,786.85 L429.35,787.31 L429.01,787.84 L428.65,788.41 L428.28,789.02 L427.91,789.65 L427.54,790.27 L427.17,790.86 L426.81,791.41 L426.45,791.91 L426.10,792.33 L425.77,792.66 L425.45,792.89 L425.15,793.02 L424.87,793.03 L424.62,792.94 L424.38,792.73 L424.16,792.41 L423.96,792.00 L423.78,791.49 L423.62,790.91 L423.47,790.27 L423.33,789.59 L423.19,788.88 L423.06,788.17 L422.93,787.47 L422.80,786.79 L422.66,786.17 L422.51,785.62 L422.34,785.14 L422.16,784.75 L421.95,784.47 L421.72,784.29 L421.47,784.22 L421.20,784.26 L420.90,784.42 L420.58,784.67 L420.24,785.02 L419.88,785.45 L419.50,785.94 L419.10,786.49 L418.70,787.07 L418.29,787.67 L417.88,788.27 L417.47,788.84 L417.07,789.38 L416.68,789.85 L416.31,790.26 L415.95,790.58 L415.62,790.80 L415.31,790.92 L415.02,790.93 L414.77,790.83 L414.54,790.62 L414.34,790.30 L414.17,789.88 L414.02,789.38 L413.89,788.80 L413.78,788.15 L413.68,787.47 L413.59,786.75 L413.51,786.03 L413.43,785.32 L413.34,784.64 L413.24,784.00 L413.13,783.43 L412.99,782.93 L412.84,782.52 L412.65,782.21 L412.44,782.01 L412.20,781.91 L411.93,781.93 L411.63,782.05 L411.29,782.27 L410.93,782.58 L410.54,782.98 L410.14,783.44 L409.71,783.96 L409.27,784.51 L408.82,785.08 L408.37,785.65 L407.93,786.20 L407.49,786.71 L407.07,787.18 L406.66,787.60 L406.26,787.97 L405.88,788.27 L405.52,788.50 L405.19,788.65 L404.89,788.69 L404.62,788.63 L404.40,788.43 L404.22,788.10 L404.09,787.62 L404.01,786.99 L403.98,786.20 L404.01,785.28 L404.07,784.24 L404.18,783.09 L404.31,781.88 L404.45,780.63 L404.60,779.40 L404.73,778.22 L404.84,777.14 L404.89,776.21 L404.89,775.45 L404.81,774.91 L404.65,774.62 L404.40,774.58 L404.06,774.80 L403.62,775.27 L403.10,775.98 L402.49,776.90 L401.82,777.98 L401.11,779.18 L400.36,780.46 L399.58,781.79 L398.80,783.12 L398.03,784.41 L397.28,785.63 L396.57,786.73 L395.91,787.68 L395.32,788.46 L394.80,789.03 L394.37,789.38 L394.02,789.49 L393.77,789.37 L393.61,789.01 L393.54,788.41 L393.56,787.60 L393.67,786.60 L393.84,785.42 L394.08,784.10 L394.36,782.68 L394.68,781.19 L395.01,779.68 L395.34,778.18 L395.66,776.73 L395.94,775.38 L396.18,774.15 L396.35,773.08 L396.45,772.20 L396.46,771.53 L396.38,771.08 L396.20,770.87 L395.91,770.89 L395.53,771.15 L395.05,771.64 L394.47,772.33 L393.81,773.20 L393.08,774.23 L392.28,775.39 L391.45,776.63 L390.58,777.92 L389.71,779.21 L388.84,780.48 L388.01,781.68 L387.21,782.76 L386.48,783.71 L385.82,784.48 L385.24,785.06 L384.77,785.42 L384.40,785.55 L384.14,785.44 L383.99,785.09 L383.95,784.51 L384.02,783.72 L384.19,782.72 L384.44,781.56 L384.76,780.25 L385.14,778.83 L385.57,777.35 L386.01,775.83 L386.46,774.31 L386.88,772.85 L387.28,771.47 L387.61,770.22 L387.88,769.12 L388.05,768.20 L388.13,767.49 L388.10,767.00 L387.95,766.74 L387.68,766.72 L387.29,766.94 L386.78,767.38 L386.16,768.03 L385.44,768.86 L384.64,769.86 L383.76,770.98 L382.83,772.20 L381.87,773.46 L380.89,774.74 L379.92,776.00 L378.98,777.19 L378.09,778.27 L377.27,779.22 L376.53,780.00 L375.90,780.58 L375.38,780.95 L374.98,781.09 L374.71,780.99 L374.58,780.66 L374.57,780.09 L374.69,779.31 L374.92,778.32 L375.25,777.16 L375.67,775.85 L376.16,774.43 L376.70,772.93 L377.26,771.40 L377.83,769.87 L378.39,768.39 L378.90,766.98 L379.34,765.70 L379.71,764.57 L379.97,763.61 L380.12,762.87 L380.14,762.34 L380.03,762.04 L379.78,761.98 L379.38,762.16 L378.85,762.56 L378.19,763.17 L377.42,763.97 L376.54,764.93 L375.57,766.02 L374.55,767.21 L373.48,768.45 L372.39,769.71 L371.31,770.95 L370.27,772.13 L369.28,773.20 L368.36,774.15 L367.55,774.92 L366.85,775.51 L366.28,775.88 L365.86,776.03 L365.58,775.94 L365.45,775.62 L365.47,775.06 L365.64,774.29 L365.93,773.31 L366.35,772.16 L366.87,770.86 L367.46,769.45 L368.12,767.96 L368.81,766.43 L369.50,764.89 L370.18,763.40 L370.81,761.99 L371.37,760.69 L371.84,759.54 L372.19,758.57 L372.41,757.79 L372.49,757.23 L372.42,756.90 L372.18,756.80 L371.79,756.94 L371.24,757.29 L370.54,757.86 L369.71,758.61 L368.77,759.53 L367.72,760.57 L366.61,761.71 L365.44,762.91 L364.25,764.13 L363.07,765.33 L361.93,766.48 L360.84,767.52 L359.85,768.44 L358.96,769.20 L358.20,769.77 L357.58,770.14 L357.13,770.29 L356.84,770.21 L356.72,769.89 L356.76,769.35 L356.97,768.60 L357.33,767.65 L357.82,766.53 L358.42,765.26 L359.12,763.88 L359.88,762.42 L360.68,760.91 L361.48,759.41 L362.27,757.94 L363.01,756.55 L363.67,755.26 L364.23,754.12 L364.67,753.14 L364.96,752.35 L365.10,751.77 L365.06,751.42 L364.84,751.29 L364.44,751.41 L363.85,751.75 L363.10,752.30 L362.20,753.02 L361.18,753.89 L360.07,754.87 L358.91,755.90 L357.72,756.96 L356.55,757.99 L355.42,758.96 L354.36,759.84 L353.39,760.58 L352.55,761.18 L351.83,761.62 L351.26,761.88 L350.83,761.96 L350.54,761.87 L350.39,761.62 L350.37,761.22 L350.45,760.68 L350.64,760.03 L350.92,759.28 L351.26,758.46 L351.66,757.57 L352.09,756.65 L352.55,755.71 L353.01,754.75 L353.48,753.81 L353.93,752.89 L354.35,752.01 L354.72,751.19 L355.03,750.44 L355.26,749.79 L355.40,749.25 L355.43,748.83 L355.36,748.53 L355.17,748.35 L354.87,748.31 L354.46,748.38 L353.94,748.58 L353.33,748.87 L352.63,749.26 L351.86,749.72 L351.03,750.24 L350.17,750.79 L349.28,751.35 L348.41,751.91 L347.55,752.44 L346.73,752.93 L345.97,753.34 L345.28,753.67 L344.69,753.91 L344.19,754.03 L343.81,754.04 L343.54,753.92 L343.39,753.68 L343.36,753.31 L343.44,752.83 L343.63,752.24 L343.91,751.56 L344.28,750.79 L344.71,749.96 L345.19,749.08 L345.71,748.18 L346.23,747.27 L346.74,746.37 L347.22,745.52 L347.65,744.71 L348.02,743.98 L348.30,743.34 L348.48,742.79 L348.56,742.36 L348.52,742.04 L348.36,741.84 L348.07,741.76 L347.67,741.80 L347.15,741.95 L346.53,742.19 L345.82,742.52 L345.04,742.91 L344.21,743.35 L343.32,743.84 L342.36,744.39 L341.33,744.99 L340.24,745.66 L339.10,746.37 L337.91,747.11 L336.71,747.85 L335.54,748.57 L334.43,749.22 L333.43,749.76 L332.60,750.14 L331.99,750.31 L331.64,750.24 L331.60,749.90 L331.88,749.25 L332.51,748.30 L333.49,747.04 L334.78,745.49 L336.36,743.70 L338.18,741.71 L340.16,739.59 L342.23,737.40 L344.29,735.24 L346.26,733.17 L348.04,731.27 L349.55,729.62 L350.73,728.28 L351.50,727.30 L351.86,726.68 L351.81,726.42 L351.35,726.50 L350.49,726.94 L349.24,727.69 L347.63,728.75 L345.71,730.06 L343.53,731.59 L341.13,733.28 L338.59,735.08 L335.97,736.94 L333.34,738.78 L330.77,740.56 L328.33,742.22 L326.09,743.71 L324.10,744.97 L322.42,745.97 L321.10,746.67 L320.16,747.05 L319.63,747.10 L319.52,746.80 L319.84,746.16 L320.56,745.21 L321.67,743.94 L323.12,742.41 L324.88,740.65 L326.89,738.70 L329.08,736.62 L331.40,734.45 L333.77,732.26 L336.11,730.11 L338.36,728.04 L340.44,726.11 L342.30,724.37 L343.87,722.86 L345.10,721.61 L345.95,720.67 L346.40,720.03 L346.42,719.73 L346.00,719.75 L345.16,720.09 L343.91,720.73 L342.28,721.65 L340.32,722.81 L338.07,724.18 L335.59,725.70 L332.95,727.32 L330.22,729.00 L327.47,730.67 L324.78,732.29 L322.22,733.81 L319.86,735.16 L317.76,736.32 L315.98,737.24 L314.57,737.89 L313.56,738.24 L312.98,738.29 L312.84,738.02 L313.15,737.44 L313.88,736.56 L315.03,735.40 L316.54,734.00 L318.37,732.37 L320.48,730.58 L322.79,728.65 L325.23,726.65 L327.73,724.61 L330.21,722.61 L332.60,720.68 L334.83,718.87 L336.83,717.23 L338.53,715.80 L339.88,714.61 L340.84,713.69 L341.38,713.05 L341.47,712.71 L341.10,712.68 L340.29,712.93 L339.05,713.46 L337.41,714.24 L335.41,715.25 L333.10,716.45 L330.55,717.79 L327.83,719.23 L325.00,720.72 L322.15,722.22 L319.35,723.67 L316.68,725.03 L314.21,726.25 L312.01,727.29 L310.13,728.12 L308.63,728.70 L307.55,729.02 L306.92,729.06 L306.75,728.82 L307.04,728.29 L307.78,727.49 L308.95,726.44 L310.51,725.16 L312.41,723.67 L314.60,722.03 L317.00,720.27 L319.56,718.44 L322.18,716.57 L324.80,714.72 L327.32,712.94 L329.69,711.27 L331.82,709.74 L333.64,708.40 L335.11,707.27 L336.18,706.39 L336.81,705.76 L336.97,705.40 L336.66,705.30 L335.89,705.48 L334.66,705.90 L333.02,706.55 L331.00,707.40 L328.66,708.43 L326.05,709.59 L323.26,710.85 L320.35,712.15 L317.40,713.46 L314.50,714.74 L311.73,715.93 L309.16,717.00 L306.86,717.92 L304.89,718.65 L303.31,719.16 L302.17,719.43 L301.48,719.46 L301.27,719.24 L301.54,718.76 L302.27,718.04 L303.46,717.09 L305.06,715.93 L307.01,714.59 L309.27,713.11 L311.76,711.52 L314.42,709.86 L317.15,708.17 L319.89,706.49 L322.54,704.86 L325.03,703.33 L327.29,701.93 L329.23,700.69 L330.82,699.64 L331.99,698.80 L332.71,698.19 L332.95,697.81 L332.70,697.67 L331.97,697.76 L330.78,698.08 L329.14,698.60 L327.11,699.31 L324.74,700.16 L322.09,701.14 L319.24,702.21 L316.26,703.32 L313.24,704.44 L310.26,705.52 L307.45,706.52 L304.90,707.39 L302.72,708.07 L300.97,708.55 L299.72,708.80 L298.98,708.82 L298.77,708.59 L299.05,708.14 L299.79,707.49 L300.92,706.67 L302.37,705.72 L304.03,704.67 L305.84,703.57 L307.69,702.47 L309.50,701.38 L311.20,700.35 L312.73,699.41 L314.05,698.55 L315.13,697.81 L315.97,697.17 L316.57,696.64 L316.94,696.21 L317.12,695.85 L317.14,695.57 L317.02,695.34 L316.80,695.15 L316.51,695.00 L316.15,694.87 L315.73,694.76 L315.24,694.68 L314.63,694.64 L313.93,694.64 L313.15,694.67 L312.32,694.72 L311.45,694.78 L310.57,694.84 L309.69,694.89 L308.85,694.93 L308.05,694.95 L307.33,694.93 L306.70,694.88 L306.18,694.79 L305.77,694.65 L305.49,694.46 L305.35,694.23 L305.34,693.94 L305.46,693.60 L305.70,693.22 L306.07,692.80 L306.54,692.34 L307.09,691.85 L307.72,691.34 L308.39,690.81 L309.10,690.28 L309.80,689.75 L310.49,689.23 L311.14,688.73 L311.73,688.25 L312.24,687.80 L312.65,687.38 L312.95,687.01 L313.12,686.68 L313.17,686.39 L313.07,686.15 L312.85,685.96 L312.49,685.80 L312.01,685.69 L311.42,685.61 L310.73,685.56 L309.97,685.54 L309.14,685.53 L308.27,685.53 L307.38,685.53 L306.50,685.53 L305.65,685.52 L304.85,685.49 L304.13,685.43 L303.49,685.34 L302.96,685.22 L302.55,685.06 L302.27,684.86 L302.12,684.62 L302.11,684.33 L302.24,684.01 L302.50,683.65 L302.87,683.25 L303.36,682.83 L303.94,682.38 L304.59,681.91 L305.29,681.43 L306.02,680.95 L306.77,680.46 L307.49,679.99 L308.18,679.52 L308.80,679.08 L309.35,678.66 L309.80,678.27 L310.13,677.91 L310.34,677.59 L310.42,677.30 L310.36,677.05 L310.17,676.84 L309.84,676.66 L309.38,676.51 L308.81,676.39 L308.13,676.30 L307.37,676.22 L306.55,676.16 L305.69,676.10 L304.81,676.05 L303.93,675.99 L303.08,675.93 L302.27,675.84 L301.54,675.74 L300.90,675.62 L300.37,675.46 L299.95,675.28 L299.67,675.06 L299.52,674.82 L299.52,674.54 L299.65,674.23 L299.92,673.89 L300.31,673.52 L300.81,673.13 L301.40,672.72 L302.07,672.30 L302.80,671.87 L303.56,671.43 L304.33,670.99 L305.09,670.56 L305.81,670.14 L306.47,669.74 L307.06,669.36 L307.54,668.99 L307.91,668.65 L308.16,668.34 L308.27,668.06 L308.24,667.80 L308.08,667.57 L307.77,667.37 L307.34,667.19 L306.79,667.03 L306.13,666.89 L305.39,666.77 L304.58,666.65 L303.73,666.54 L302.85,666.43 L301.98,666.31 L301.13,666.19 L300.29,666.06 L299.43,665.94 L298.53,665.82 L297.57,665.70 L296.58,665.59 L295.59,665.48 L294.65,665.35 L293.84,665.20 L293.23,665.01 L292.91,664.78 L292.97,664.48 L293.47,664.12 L294.47,663.68 L296.01,663.17 L298.08,662.58 L300.67,661.92 L303.69,661.21 L307.06,660.46 L310.64,659.69 L314.30,658.92 L317.86,658.18 L321.15,657.49 L324.01,656.87 L326.27,656.34 L327.81,655.92 L328.53,655.60 L328.36,655.40 L327.30,655.32 L325.35,655.34 L322.61,655.45 L319.21,655.63 L315.30,655.86 L311.00,656.12 L306.43,656.40 L301.72,656.68 L297.00,656.94 L292.40,657.17 L288.06,657.36 L284.11,657.50 L280.64,657.56 L277.76,657.56 L275.56,657.47 L274.09,657.31 L273.40,657.06 L273.51,656.73 L274.41,656.33 L276.07,655.87 L278.45,655.34 L281.48,654.76 L285.08,654.15 L289.13,653.51 L293.53,652.85 L298.14,652.19 L302.84,651.54 L307.48,650.91 L311.95,650.32 L316.09,649.76 L319.81,649.24 L322.99,648.78 L325.53,648.38 L327.37,648.03 L328.46,647.74 L328.75,647.50 L328.25,647.32 L326.96,647.18 L324.92,647.08 L322.20,647.01 L318.86,646.97 L315.00,646.95 L310.73,646.93 L306.17,646.91 L301.46,646.89 L296.73,646.85 L292.11,646.78 L287.73,646.69 L283.72,646.57 L280.19,646.42 L277.25,646.23 L274.98,646.01 L273.44,645.75 L272.68,645.47 L272.71,645.15 L273.55,644.81 L275.15,644.45 L277.48,644.08 L280.48,643.70 L284.05,643.32 L288.09,642.94 L292.48,642.57 L297.11,642.21 L301.84,641.87 L306.53,641.54 L311.04,641.23 L315.26,640.94 L319.06,640.66 L322.32,640.41 L324.97,640.17 L326.91,639.94 L328.10,639.72 L328.50,639.50 L328.10,639.28 L326.91,639.06 L324.97,638.83 L322.32,638.59 L319.06,638.34 L315.26,638.06 L311.04,637.77 L306.53,637.46 L301.84,637.13 L297.11,636.79 L292.48,636.43 L288.09,636.06 L284.05,635.68 L280.48,635.30 L277.48,634.92 L275.15,634.55 L273.55,634.19 L272.71,633.85 L272.68,633.53 L273.44,633.25 L274.98,632.99 L277.25,632.77 L280.19,632.58 L283.72,632.43 L287.73,632.31 L292.11,632.22 L296.73,632.15 L301.46,632.11 L306.17,632.09 L310.73,632.07 L315.00,632.05 L318.86,632.03 L322.20,631.99 L324.92,631.92 L326.96,631.82 L328.25,631.68 L328.75,631.50 L328.46,631.26 L327.37,630.97 L325.53,630.62 L322.99,630.22 L319.81,629.76 L316.09,629.24 L311.95,628.68 L307.48,628.09 L302.84,627.46 L298.14,626.81 L293.53,626.15 L289.13,625.49 L285.08,624.85 L281.48,624.24 L278.45,623.66 L276.07,623.13 L274.41,622.67 L273.51,622.27 L273.40,621.94 L274.09,621.69 L275.56,621.53 L277.76,621.44 L280.64,621.44 L284.11,621.50 L288.06,621.64 L292.40,621.83 L297.00,622.06 L301.72,622.32 L306.43,622.60 L311.00,622.88 L315.30,623.14 L319.21,623.37 L322.61,623.55 L325.41,623.67 L327.53,623.71 L328.91,623.67 L329.51,623.53 L329.32,623.28 L328.35,622.93 L326.62,622.48 L324.18,621.92 L321.10,621.27 L317.48,620.52 L313.42,619.71 L309.04,618.83 L304.46,617.90 L299.81,616.95 L295.24,616.00 L290.86,615.05 L286.81,614.15 L283.21,613.29 L280.15,612.51 L277.73,611.82 L276.02,611.23 L275.06,610.76 L274.88,610.41 L275.50,610.20 L276.89,610.11 L279.01,610.16 L281.81,610.32 L285.20,610.60 L289.10,610.98 L293.38,611.44 L297.93,611.97 L302.62,612.53 L307.25,613.10 L311.67,613.65 L315.71,614.15 L319.24,614.56 L322.15,614.87 L324.36,615.06 L325.81,615.10 L326.49,615.01 L326.42,614.76 L325.64,614.38 L324.23,613.87 L322.28,613.24 L319.91,612.52 L317.21,611.73 L314.32,610.88 L311.35,610.01 L308.39,609.13 L305.53,608.26 L302.86,607.42 L300.43,606.62 L298.27,605.87 L296.41,605.18 L294.87,604.55 L293.64,603.99 L292.72,603.49 L292.10,603.06 L291.77,602.69 L291.73,602.38 L292.01,602.15 L292.65,602.01 L293.63,601.95 L294.92,601.96 L296.49,602.05 L298.29,602.19 L300.28,602.39 L302.39,602.63 L304.58,602.89 L306.77,603.17 L308.91,603.43 L310.94,603.68 L312.81,603.89 L314.45,604.06 L315.84,604.16 L316.92,604.18 L317.67,604.13 L318.07,603.98 L318.12,603.74 L317.81,603.41 L317.15,602.98 L316.17,602.46 L314.89,601.85 L313.36,601.17 L311.62,600.43 L309.72,599.63 L307.72,598.80 L305.68,597.95 L303.65,597.10 L301.71,596.26 L299.90,595.45 L298.28,594.69 L296.90,594.00 L295.80,593.38 L295.01,592.85 L294.56,592.42 L294.46,592.09 L294.72,591.86 L295.32,591.75 L296.27,591.74 L297.52,591.82 L299.05,592.00 L300.82,592.26 L302.77,592.58 L304.85,592.95 L307.01,593.35 L309.18,593.76 L311.31,594.17 L313.34,594.55 L315.21,594.89 L316.87,595.17 L318.27,595.37 L319.38,595.48 L320.17,595.48 L320.63,595.38 L320.73,595.15 L320.48,594.81 L319.89,594.35 L318.97,593.78 L317.77,593.11 L316.31,592.34 L314.64,591.49 L312.81,590.58 L310.88,589.63 L308.90,588.65 L306.93,587.66 L305.03,586.70 L303.26,585.77 L301.67,584.90 L300.31,584.11 L299.22,583.41 L298.43,582.81 L297.97,582.34 L297.85,581.99 L298.08,581.77 L298.66,581.67 L299.57,581.71 L300.78,581.87 L302.26,582.13 L303.99,582.49 L305.89,582.93 L307.94,583.43 L310.06,583.96 L312.20,584.52 L314.31,585.07 L316.32,585.58 L318.18,586.05 L319.85,586.44 L321.26,586.74 L322.40,586.94 L323.23,587.01 L323.72,586.95 L323.88,586.75 L323.69,586.41 L323.17,585.93 L322.33,585.31 L321.20,584.58 L319.82,583.73 L318.23,582.78 L316.48,581.76 L314.62,580.69 L312.71,579.59 L310.80,578.48 L308.96,577.38 L307.24,576.34 L305.68,575.36 L304.35,574.47 L303.27,573.68 L302.49,573.02 L302.02,572.50 L301.89,572.13 L302.10,571.91 L302.64,571.84 L303.51,571.91 L304.68,572.13 L306.11,572.48 L307.79,572.94 L309.64,573.49 L311.64,574.11 L313.71,574.78 L315.82,575.47 L317.89,576.16 L319.88,576.81 L321.73,577.40 L323.38,577.91 L324.81,578.32 L325.96,578.60 L326.82,578.74 L327.36,578.73 L327.56,578.56 L327.43,578.23 L326.98,577.73 L326.21,577.09 L325.17,576.29 L323.87,575.37 L322.37,574.33 L320.70,573.21 L318.92,572.02 L317.09,570.80 L315.26,569.57 L313.48,568.36 L311.81,567.19 L310.30,566.11 L309.00,565.12 L307.95,564.25 L307.18,563.53 L306.71,562.96 L306.56,562.56 L306.75,562.33 L307.26,562.27 L308.08,562.39 L309.20,562.66 L310.59,563.09 L312.20,563.64 L314.00,564.30 L315.94,565.04 L317.96,565.84 L320.02,566.67 L322.05,567.49 L324.00,568.27 L325.82,568.99 L327.47,569.62 L328.89,570.13 L330.06,570.51 L330.94,570.72 L331.51,570.77 L331.76,570.63 L331.69,570.31 L331.30,569.81 L330.61,569.13 L329.65,568.29 L328.44,567.29 L327.02,566.17 L325.44,564.95 L323.75,563.66 L322.02,562.33 L320.28,560.99 L318.60,559.68 L317.04,558.43 L315.63,557.26 L314.43,556.21 L313.47,555.30 L312.78,554.55 L312.37,553.97 L312.27,553.57 L312.48,553.36 L312.98,553.33 L313.78,553.49 L314.83,553.81 L316.12,554.28 L317.62,554.89 L319.27,555.60 L321.04,556.39 L322.88,557.24 L324.75,558.11 L326.59,558.98 L328.36,559.81 L330.02,560.57 L331.53,561.24 L332.84,561.79 L333.93,562.21 L334.77,562.46 L335.34,562.54 L335.62,562.43 L335.62,562.14 L335.33,561.65 L334.78,560.99 L333.98,560.16 L332.96,559.17 L331.75,558.05 L330.40,556.83 L328.94,555.53 L327.43,554.19 L325.91,552.82 L324.43,551.48 L323.04,550.19 L321.77,548.98 L320.68,547.88 L319.79,546.92 L319.13,546.11 L318.73,545.48 L318.60,545.04 L318.75,544.80 L319.18,544.75 L319.87,544.90 L320.82,545.23 L322.00,545.72 L323.37,546.37 L324.91,547.14 L326.57,548.00 L328.30,548.93 L330.08,549.90 L331.83,550.86 L333.53,551.79 L335.13,552.65 L336.58,553.41 L337.86,554.05 L338.92,554.53 L339.75,554.84 L340.32,554.97 L340.63,554.89 L340.67,554.62 L340.45,554.14 L339.97,553.47 L339.27,552.61 L338.36,551.60 L337.28,550.44 L336.05,549.18 L334.73,547.82 L333.36,546.42 L331.98,545.00 L330.63,543.60 L329.36,542.25 L328.20,540.98 L327.20,539.83 L326.39,538.82 L325.79,537.98 L325.42,537.33 L325.31,536.87 L325.45,536.62 L325.84,536.57 L326.49,536.73 L327.36,537.08 L328.45,537.60 L329.72,538.29 L331.14,539.10 L332.68,540.02 L334.29,541.01 L335.94,542.04 L337.57,543.07 L339.16,544.06 L340.66,544.99 L342.03,545.81 L343.23,546.51 L344.25,547.05 L345.05,547.41 L345.63,547.58 L345.96,547.54 L346.05,547.29 L345.90,546.84 L345.52,546.18 L344.93,545.33 L344.15,544.31 L343.21,543.15 L342.14,541.86 L340.97,540.48 L339.75,539.05 L338.52,537.59 L337.31,536.15 L336.17,534.76 L335.13,533.45 L334.23,532.26 L333.50,531.22 L332.96,530.34 L332.63,529.66 L332.52,529.17 L332.65,528.90 L333.01,528.85 L333.60,529.01 L334.40,529.37 L335.39,529.91 L336.56,530.63 L337.87,531.48 L339.29,532.44 L340.78,533.49 L342.31,534.57 L343.84,535.66 L345.33,536.73 L346.74,537.73 L348.04,538.62 L349.19,539.39 L350.18,540.00 L350.97,540.42 L351.56,540.65 L351.92,540.66 L352.06,540.45 L351.98,540.03 L351.68,539.39 L351.19,538.54 L350.52,537.52 L349.69,536.33 L348.72,534.99 L347.67,533.56 L346.58,532.09 L345.51,530.63 L344.52,529.23 L343.63,527.94 L342.90,526.79 L342.34,525.83 L341.99,525.06 L341.84,524.50 L341.89,524.16 L342.14,524.02 L342.56,524.05 L343.13,524.25 L343.82,524.57 L344.59,524.99 L345.41,525.46 L346.25,525.96 L347.08,526.45 L347.88,526.92 L348.63,527.34 L349.33,527.69 L349.96,527.99 L350.53,528.22 L351.04,528.38 L351.49,528.50 L351.91,528.56 L352.28,528.59 L352.63,528.58 L352.93,528.53 L353.18,528.42 L353.37,528.24 L353.51,528.00 L353.59,527.70 L353.62,527.34 L353.61,526.93 L353.55,526.47 L353.47,525.97 L353.35,525.45 L353.23,524.90 L353.10,524.34 L352.97,523.79 L352.86,523.24 L352.77,522.73 L352.71,522.24 L352.68,521.80 L352.70,521.41 L352.77,521.07 L352.90,520.80 L353.08,520.59 L353.31,520.45 L353.60,520.37 L353.94,520.36 L354.32,520.40 L354.75,520.50 L355.22,520.64 L355.71,520.82 L356.22,521.03 L356.74,521.25 L357.27,521.48 L357.79,521.70 L358.29,521.90 L358.77,522.08 L359.21,522.22 L359.62,522.31 L359.98,522.35 L360.29,522.32 L360.55,522.24 L360.76,522.08 L360.92,521.86 L361.03,521.57 L361.08,521.22 L361.10,520.82 L361.08,520.36 L361.03,519.86 L360.95,519.33 L360.87,518.78 L360.77,518.21 L360.68,517.65 L360.60,517.10 L360.54,516.57 L360.51,516.08 L360.51,515.63 L360.55,515.24 L360.64,514.90 L360.77,514.63 L360.96,514.42 L361.19,514.29 L361.48,514.22 L361.81,514.22 L362.19,514.29 L362.61,514.40 L363.06,514.57 L363.54,514.78 L364.03,515.02 L364.54,515.27 L365.05,515.53 L365.55,515.79 L366.04,516.03 L366.51,516.24 L366.95,516.41 L367.35,516.53 L367.72,516.60 L368.04,516.60 L368.31,516.54 L368.53,516.41 L368.71,516.21 L368.84,515.93 L368.93,515.60 L368.97,515.20 L368.98,514.75 L368.97,514.25 L368.93,513.72 L368.88,513.16 L368.82,512.59 L368.77,512.03 L368.72,511.47 L368.69,510.94 L368.69,510.44 L368.70,509.97 L368.74,509.52 L368.78,509.10 L368.84,508.69 L368.93,508.33 L369.05,508.01 L369.22,507.76 L369.44,507.61 L369.74,507.56 L370.11,507.65 L370.58,507.89 L371.14,508.28 L371.79,508.83 L372.54,509.53 L373.37,510.37 L374.25,511.31 L375.18,512.33 L376.12,513.38 L377.04,514.41 L377.92,515.37 L378.71,516.20 L379.39,516.86 L379.94,517.30 L380.33,517.47 L380.56,517.37 L380.61,516.97 L380.49,516.27 L380.21,515.29 L379.79,514.06 L379.25,512.63 L378.63,511.04 L377.97,509.36 L377.28,507.62 L376.59,505.87 L375.93,504.17 L375.33,502.55 L374.81,501.05 L374.38,499.73 L374.08,498.60 L373.90,497.70 L373.87,497.06 L373.98,496.68 L374.25,496.58 L374.67,496.75 L375.23,497.19 L375.93,497.89 L376.74,498.81 L377.66,499.93 L378.66,501.21 L379.72,502.61 L380.81,504.10 L381.91,505.62 L383.00,507.13 L384.05,508.57 L385.04,509.92 L385.95,511.11 L386.76,512.12 L387.44,512.91 L388.00,513.46 L388.43,513.75 L388.71,513.76 L388.84,513.48 L388.84,512.94 L388.71,512.12 L388.47,511.07 L388.11,509.79 L387.67,508.33 L387.16,506.72 L386.61,505.00 L386.04,503.23 L385.46,501.44 L384.91,499.69 L384.41,498.02 L383.98,496.48 L383.63,495.11 L383.38,493.94 L383.25,493.00 L383.25,492.33 L383.37,491.93 L383.63,491.81 L384.02,491.98 L384.54,492.42 L385.18,493.13 L385.92,494.08 L386.75,495.23 L387.66,496.56 L388.62,498.02 L389.61,499.57 L390.61,501.15 L391.61,502.73 L392.57,504.25 L393.47,505.67 L394.31,506.94 L395.06,508.02 L395.71,508.89 L396.24,509.50 L396.66,509.84 L396.95,509.90 L397.12,509.67 L397.17,509.16 L397.11,508.37 L396.94,507.32 L396.68,506.05 L396.34,504.58 L395.94,502.96 L395.51,501.22 L395.05,499.42 L394.59,497.60 L394.15,495.81 L393.75,494.10 L393.41,492.52 L393.15,491.13 L392.99,489.96 L392.94,489.07 L393.00,488.45 L393.18,488.14 L393.49,488.14 L393.90,488.42 L394.42,488.97 L395.02,489.77 L395.70,490.76 L396.44,491.92 L397.21,493.19 L398.01,494.53 L398.80,495.88 L399.58,497.21 L400.33,498.46 L401.03,499.62 L401.68,500.64 L402.27,501.50 L402.79,502.19 L403.25,502.69 L403.63,503.00 L403.94,503.13 L404.19,503.07 L404.37,502.83 L404.49,502.42 L404.57,501.85 L404.59,501.14 L404.57,500.30 L404.51,499.33 L404.42,498.26 L404.31,497.12 L404.18,495.93 L404.06,494.72 L403.94,493.53 L403.85,492.39 L403.78,491.33 L403.76,490.37 L403.78,489.55 L403.85,488.89 L403.98,488.39 L404.17,488.08 L404.43,487.95 L404.74,488.02 L405.11,488.27 L405.53,488.70 L406.00,489.30 L406.52,490.04 L407.07,490.90 L407.64,491.85 L408.23,492.87 L408.82,493.92 L409.42,494.98 L409.99,496.00 L410.55,496.96 L411.07,497.83 L411.56,498.58 L412.00,499.18 L412.39,499.63 L412.73,499.89 L413.02,499.97 L413.25,499.86 L413.43,499.55 L413.55,499.06 L413.64,498.40 L413.68,497.59 L413.68,496.63 L413.67,495.57 L413.63,494.43 L413.58,493.24 L413.54,492.02 L413.50,490.83 L413.47,489.67 L413.47,488.60 L413.51,487.63 L413.58,486.80 L413.69,486.12 L413.85,485.61 L414.05,485.29 L414.30,485.16 L414.61,485.22 L414.95,485.48 L415.34,485.92 L415.77,486.52 L416.24,487.28 L416.72,488.16 L417.23,489.14 L417.75,490.19 L418.28,491.28 L418.80,492.37 L419.31,493.43 L419.81,494.44 L420.28,495.35 L420.72,496.14 L421.12,496.79 L421.49,497.28 L421.82,497.59 L422.10,497.71 L422.34,497.63 L422.55,497.36 L422.71,496.90 L422.84,496.27 L422.93,495.47 L423.01,494.53 L423.06,493.49 L423.10,492.35 L423.13,491.16 L423.16,489.95 L423.20,488.75 L423.25,487.59 L423.32,486.51 L423.41,485.53 L423.53,484.69 L423.68,484.00 L423.86,483.48 L424.09,483.15 L424.34,483.01 L424.64,483.08 L424.96,483.33 L425.32,483.77 L425.71,484.39 L426.12,485.16 L426.55,486.05 L426.99,487.05 L427.44,488.13 L427.89,489.24 L428.35,490.37 L428.79,491.47 L429.22,492.51 L429.63,493.46 L430.02,494.30 L430.39,494.99 L430.73,495.52 L431.03,495.87 L431.31,496.03 L431.56,495.99 L431.79,495.76 L431.98,495.33 L432.15,494.73 L432.31,493.98 L432.45,493.13 L432.58,492.16 L432.69,491.06 L432.80,489.83 L432.88,488.45 L432.96,486.93 L433.02,485.30 L433.08,483.57 L433.14,481.80 L433.20,480.03 L433.28,478.35 L433.39,476.82 L433.53,475.54 L433.71,474.57 L433.94,474.00 L434.22,473.88 L434.55,474.28 L434.94,475.21 L435.39,476.69 L435.88,478.68 L436.41,481.13 L436.98,483.99 L437.56,487.13 L438.15,490.46 L438.73,493.84 L439.29,497.13 L439.82,500.21 L440.31,502.94 L440.75,505.22 L441.14,506.97 L441.47,508.19 L441.76,508.83 L441.99,508.88 L442.18,508.33 L442.32,507.19 L442.43,505.51 L442.50,503.32 L442.55,500.70 L442.58,497.71 L442.61,494.43 L442.63,490.97 L442.67,487.41 L442.71,483.87 L442.77,480.44 L442.86,477.22 L442.97,474.30 L443.12,471.77 L443.30,469.69 L443.52,468.13 L443.77,467.13 L444.05,466.71 L444.36,466.90 L444.70,467.68 L445.06,469.04 L445.43,470.92 L445.82,473.29 L446.22,476.06 L446.62,479.17 L447.02,482.52 L447.41,486.01 L447.79,489.55 L448.15,493.04 L448.50,496.36 L448.83,499.44 L449.14,502.18 L449.44,504.50 L449.71,506.34 L449.97,507.64 L450.21,508.36 L450.44,508.49 L450.66,508.02 L450.88,506.97 L451.10,505.36 L451.31,503.23 L451.53,500.66 L451.76,497.71 L451.99,494.48 L452.24,491.04 L452.50,487.50 Z" fill="none" stroke="#2a2a2a" stroke-width="1.1" stroke-linejoin="round"/>
<defs><g id="fl"><path d="M-13,-19 C-20,-23 -32,-24 -40,-22 C-47,-21 -52,-17 -52,-12 C-55,-9 -55,-5 -52,-3 C-55,0 -55,5 -52,7 C-55,10 -54,15 -51,17 C-47,22 -38,23 -31,22 C-24,21 -18,20 -13,18 C-9,10 -9,-11 -13,-19 Z" fill="#F3B9CA" opacity="0.9"/><path d="M-15,-15 C-24,-19 -36,-19 -42,-13 C-46,-7 -46,7 -42,13 C-36,18 -24,18 -15,14 Z" fill="#F7D0DB" opacity="0.8"/><path d="M0,0 C-2,-6 -8,-12 -15,-13 C-21,-14 -26,-15 -28,-13 C-27,-10 -24,-7 -21,-5 C-25,-4 -29,-2 -30,1 C-28,3 -24,4 -21,5 C-24,7 -27,11 -27,14 C-22,14 -18,14 -15,13 C-8,12 -2,6 0,0 Z" fill="#8F867B"/><path d="M-5,-2 C-10,-7 -17,-10 -24,-11 C-22,-8 -19,-5 -16,-3 C-20,-2 -23,0 -25,1 C-18,2 -11,1 -5,-2 Z" fill="#A39A8F" opacity="0.7"/></g></defs>
<path d="M340.0,219.5 C356.5,216.7 390.9,211.0 413.0,208.0 C435.1,205.0 451.6,200.8 472.6,201.3 C493.6,201.8 520.3,207.1 539.0,211.0 C557.7,214.9 569.1,218.5 585.0,224.5 C600.9,230.5 615.4,238.2 634.5,247.0 C653.6,255.8 682.2,266.2 699.4,277.5 C716.6,288.8 725.1,302.7 737.9,314.6 C750.7,326.5 764.6,335.8 776.3,349.0 C788.0,362.2 796.6,377.1 808.2,394.0 C819.8,410.9 835.9,431.7 845.7,450.2 C855.5,468.7 860.2,479.6 866.8,505.2 C873.4,530.8 881.0,581.1 885.5,603.6 C890.0,626.1 894.6,618.6 893.8,640.0 C893.0,661.4 884.3,709.8 880.7,732.0 C877.1,754.2 877.6,757.8 872.0,773.5 C866.4,789.2 856.3,807.0 846.8,826.0 C837.3,845.0 826.0,869.2 815.0,887.3 C804.0,905.4 791.4,921.5 781.0,934.7 C770.6,947.9 765.3,955.3 752.4,966.3 C739.5,977.3 725.6,987.2 703.5,1000.8 C681.4,1014.4 645.2,1036.8 620.0,1048.0 C594.8,1059.2 573.3,1062.9 552.0,1067.9 C530.7,1072.9 514.2,1075.6 492.4,1077.8 C470.6,1080.0 441.7,1082.4 421.0,1081.0 C400.3,1079.6 384.8,1072.8 368.0,1069.5 C351.2,1066.2 336.2,1066.5 320.0,1061.0 C303.8,1055.5 289.7,1045.7 271.0,1036.6 C252.3,1027.5 225.3,1017.7 207.8,1006.4 C190.3,995.1 179.2,980.0 166.0,969.0 C152.8,958.0 140.4,952.6 128.8,940.3 C117.2,928.0 108.1,912.5 96.3,895.3 C84.5,878.1 67.1,855.7 58.0,837.3 C48.9,818.9 47.1,800.8 41.6,784.8 C36.1,768.8 29.0,758.0 25.0,741.0 C21.0,724.0 19.5,696.7 17.5,683.0 C15.5,669.3 13.8,670.2 13.0,658.9 C12.2,647.6 11.5,631.0 13.0,615.0 C14.5,599.0 18.6,579.4 21.9,562.6 C25.2,545.8 26.9,531.4 32.8,514.4 C38.6,497.4 48.5,479.9 57.0,460.4 C65.5,440.9 72.9,415.4 83.9,397.2 C94.9,379.0 110.8,363.8 122.8,351.0 C134.8,338.2 142.2,331.2 155.6,320.7 C169.0,310.2 185.8,300.6 203.0,288.0 C220.2,275.4 240.5,255.6 259.0,245.0 C277.5,234.4 300.5,228.9 314.0,224.7 C327.5,220.4 323.5,222.3 340.0,219.5 Z" fill="none" stroke="#A39C93" stroke-width="1.3"/>
<path d="M457.7,182.4 Q472.1,189.7 482.5,201.0" fill="none" stroke="#A39C93" stroke-width="1.1"/>
<path d="M527.0,189.7 Q535.8,198.3 540.5,211.0" fill="none" stroke="#A39C93" stroke-width="1.1"/>
<path d="M462.6,222.9 Q474.6,213.4 482.5,208.0" fill="none" stroke="#A39C93" stroke-width="1.1"/>
<path d="M515.7,226.0 Q527.7,220.0 535.6,218.0" fill="none" stroke="#A39C93" stroke-width="1.1"/>
<path d="M294.4,211.3 Q306.1,216.7 313.8,226.0" fill="none" stroke="#A39C93" stroke-width="1.1"/>
<path d="M230.0,239.3 Q246.5,240.4 259.0,245.4" fill="none" stroke="#A39C93" stroke-width="1.1"/>
<path d="M300.4,250.2 Q308.5,239.6 312.6,233.0" fill="none" stroke="#A39C93" stroke-width="1.1"/>
<path d="M251.8,273.3 Q258.6,258.6 261.5,247.8" fill="none" stroke="#A39C93" stroke-width="1.1"/>
<path d="M98.4,349.8 Q112.6,348.4 122.8,351.0" fill="none" stroke="#A39C93" stroke-width="1.1"/>
<path d="M57.0,404.5 Q72.5,398.9 83.9,397.2" fill="none" stroke="#A39C93" stroke-width="1.1"/>
<path d="M120.3,381.4 Q124.8,367.9 125.2,358.3" fill="none" stroke="#A39C93" stroke-width="1.1"/>
<path d="M90.0,425.0 Q91.3,409.0 88.7,397.0" fill="none" stroke="#A39C93" stroke-width="1.1"/>
<path d="M32.8,581.2 Q31.5,568.2 26.3,559.3" fill="none" stroke="#A39C93" stroke-width="1.1"/>
<path d="M29.5,634.8 Q24.4,622.9 15.3,615.0" fill="none" stroke="#A39C93" stroke-width="1.1"/>
<path d="M21.9,805.5 Q29.9,792.6 33.9,783.7" fill="none" stroke="#A39C93" stroke-width="1.1"/>
<path d="M59.0,797.9 Q52.3,789.3 41.6,784.8" fill="none" stroke="#A39C93" stroke-width="1.1"/>
<path d="M82.0,847.0 Q72.0,840.1 58.0,837.3" fill="none" stroke="#A39C93" stroke-width="1.1"/>
<path d="M47.0,868.0 Q52.3,851.8 53.6,839.5" fill="none" stroke="#A39C93" stroke-width="1.1"/>
<path d="M189.2,973.4 Q179.7,970.4 166.2,971.4" fill="none" stroke="#A39C93" stroke-width="1.1"/>
<path d="M157.6,999.2 Q159.6,984.3 157.6,973.4" fill="none" stroke="#A39C93" stroke-width="1.1"/>
<path d="M233.7,1005.0 Q222.8,1003.7 207.8,1006.4" fill="none" stroke="#A39C93" stroke-width="1.1"/>
<path d="M213.6,1040.9 Q211.3,1024.5 205.0,1012.0" fill="none" stroke="#A39C93" stroke-width="1.1"/>
<path d="M389.6,1059.6 Q380.8,1062.5 368.0,1069.5" fill="none" stroke="#A39C93" stroke-width="1.1"/>
<path d="M373.0,1099.4 Q370.0,1085.8 363.0,1076.2" fill="none" stroke="#A39C93" stroke-width="1.1"/>
<path d="M442.6,1064.6 Q433.8,1070.8 421.0,1081.0" fill="none" stroke="#A39C93" stroke-width="1.1"/>
<path d="M444.3,1107.7 Q435.6,1094.8 422.8,1086.0" fill="none" stroke="#A39C93" stroke-width="1.1"/>
<path d="M607.3,1033.8 Q601.4,1042.5 591.5,1055.3" fill="none" stroke="#A39C93" stroke-width="1.1"/>
<path d="M611.6,1079.8 Q603.5,1069.2 591.5,1062.5" fill="none" stroke="#A39C93" stroke-width="1.1"/>
<path d="M654.7,1012.3 Q651.7,1023.2 644.6,1038.0" fill="none" stroke="#A39C93" stroke-width="1.1"/>
<path d="M676.2,1051.0 Q663.9,1044.7 647.5,1042.4" fill="none" stroke="#A39C93" stroke-width="1.1"/>
<path d="M781.0,906.0 Q782.4,915.5 779.7,929.0" fill="none" stroke="#A39C93" stroke-width="1.1"/>
<path d="M808.4,939.0 Q796.7,935.5 781.0,936.0" fill="none" stroke="#A39C93" stroke-width="1.1"/>
<path d="M814.0,863.2 Q816.5,873.2 815.0,887.3" fill="none" stroke="#A39C93" stroke-width="1.1"/>
<path d="M850.0,883.0 Q837.8,884.8 821.6,890.6" fill="none" stroke="#A39C93" stroke-width="1.1"/>
<path d="M869.8,705.7 Q876.1,714.6 878.5,727.5" fill="none" stroke="#A39C93" stroke-width="1.1"/>
<path d="M856.3,419.7 Q855.3,432.4 850.4,449.0" fill="none" stroke="#A39C93" stroke-width="1.1"/>
<path d="M823.5,440.8 Q836.6,443.5 845.7,450.2" fill="none" stroke="#A39C93" stroke-width="1.1"/>
<path d="M844.6,488.8 Q856.0,493.9 863.3,502.9" fill="none" stroke="#A39C93" stroke-width="1.1"/>
<path d="M885.5,484.2 Q880.5,492.1 871.5,504.0" fill="none" stroke="#A39C93" stroke-width="1.1"/>
<path d="M871.5,652.8 Q877.6,653.8 879.7,658.7" fill="none" stroke="#A39C93" stroke-width="1.1"/>
<path d="M691.5,247.0 Q697.5,259.6 699.4,276.2" fill="none" stroke="#A39C93" stroke-width="1.1"/>
<path d="M671.6,282.8 Q686.9,279.4 698.1,280.0" fill="none" stroke="#A39C93" stroke-width="1.1"/>
<path d="M745.8,289.4 Q747.8,300.0 745.8,314.6" fill="none" stroke="#A39C93" stroke-width="1.1"/>
<path d="M715.4,313.3 Q728.6,313.3 737.9,317.3" fill="none" stroke="#A39C93" stroke-width="1.1"/>
<path d="M21.9,555 L0,567" fill="none" stroke="#A39C93" stroke-width="1.1"/>
<path d="M11,614 L0,621.6" fill="none" stroke="#A39C93" stroke-width="1.1"/>
<path d="M893.8,672.8 L905,660" fill="none" stroke="#A39C93" stroke-width="1.1"/>
<path d="M882.9,734 L905,721" fill="none" stroke="#A39C93" stroke-width="1.1"/>
<use href="#fl" transform="translate(413.2,210.6) rotate(-3) scale(1.0)"/>
<use href="#fl" transform="translate(457.7,182.4) rotate(68) scale(0.648)"/>
<use href="#fl" transform="translate(527.0,189.7) rotate(80) scale(0.648)"/>
<use href="#fl" transform="translate(462.6,222.9) rotate(-12) scale(0.648)"/>
<use href="#fl" transform="translate(515.7,226.0) rotate(-10) scale(0.594)"/>
<use href="#fl" transform="translate(634.5,248.0) rotate(26) scale(1.0)"/>
<use href="#fl" transform="translate(294.4,211.3) rotate(33) scale(0.648)"/>
<use href="#fl" transform="translate(230.0,239.3) rotate(27) scale(0.648)"/>
<use href="#fl" transform="translate(300.4,250.2) rotate(-37) scale(0.594)"/>
<use href="#fl" transform="translate(251.8,273.3) rotate(-49) scale(0.648)"/>
<use href="#fl" transform="translate(203.2,289.0) rotate(-30) scale(1.0)"/>
<use href="#fl" transform="translate(98.4,349.8) rotate(0) scale(0.648)"/>
<use href="#fl" transform="translate(57.0,404.5) rotate(-5) scale(0.648)"/>
<use href="#fl" transform="translate(120.3,381.4) rotate(-82) scale(0.594)"/>
<use href="#fl" transform="translate(90.0,425.0) rotate(-90) scale(0.648)"/>
<use href="#fl" transform="translate(58.3,462.9) rotate(-58) scale(1.0)"/>
<use href="#fl" transform="translate(32.8,581.2) rotate(-112) scale(0.594)"/>
<use href="#fl" transform="translate(29.5,634.8) rotate(-120) scale(0.648)"/>
<use href="#fl" transform="translate(17.5,683.0) rotate(-97) scale(1.0)"/>
<use href="#fl" transform="translate(21.9,805.5) rotate(-45) scale(0.648)"/>
<use href="#fl" transform="translate(59.0,797.9) rotate(-138) scale(0.648)"/>
<use href="#fl" transform="translate(82.0,847.0) rotate(-150) scale(0.702)"/>
<use href="#fl" transform="translate(47.0,868.0) rotate(-60) scale(0.648)"/>
<use href="#fl" transform="translate(96.3,895.3) rotate(-129) scale(1.0)"/>
<use href="#fl" transform="translate(189.2,973.4) rotate(-166) scale(0.594)"/>
<use href="#fl" transform="translate(157.6,999.2) rotate(-80) scale(0.648)"/>
<use href="#fl" transform="translate(233.7,1005.0) rotate(-175) scale(0.648)"/>
<use href="#fl" transform="translate(213.6,1040.9) rotate(-90) scale(0.648)"/>
<use href="#fl" transform="translate(271.0,1036.6) rotate(-154) scale(1.0)"/>
<use href="#fl" transform="translate(389.6,1059.6) rotate(163) scale(0.594)"/>
<use href="#fl" transform="translate(373.0,1099.4) rotate(-117) scale(0.594)"/>
<use href="#fl" transform="translate(442.6,1064.6) rotate(153) scale(0.648)"/>
<use href="#fl" transform="translate(444.3,1107.7) rotate(-122) scale(0.648)"/>
<use href="#fl" transform="translate(492.4,1077.8) rotate(172) scale(1.0)"/>
<use href="#fl" transform="translate(607.3,1033.8) rotate(138) scale(0.594)"/>
<use href="#fl" transform="translate(611.6,1079.8) rotate(-153) scale(0.648)"/>
<use href="#fl" transform="translate(654.7,1012.3) rotate(132) scale(0.648)"/>
<use href="#fl" transform="translate(676.2,1051.0) rotate(-160) scale(0.648)"/>
<use href="#fl" transform="translate(703.5,999.3) rotate(146) scale(1.0)"/>
<use href="#fl" transform="translate(781.0,906.0) rotate(108) scale(0.594)"/>
<use href="#fl" transform="translate(808.4,939.0) rotate(180) scale(0.648)"/>
<use href="#fl" transform="translate(814.0,863.2) rotate(93) scale(0.648)"/>
<use href="#fl" transform="translate(846.8,826.0) rotate(117) scale(1.0)"/>
<use href="#fl" transform="translate(850.0,883.0) rotate(176) scale(0.648)"/>
<use href="#fl" transform="translate(869.8,705.7) rotate(72) scale(0.648)"/>
<use href="#fl" transform="translate(808.2,394.0) rotate(41) scale(1.0)"/>
<use href="#fl" transform="translate(856.3,419.7) rotate(125) scale(0.648)"/>
<use href="#fl" transform="translate(823.5,440.8) rotate(34) scale(0.648)"/>
<use href="#fl" transform="translate(844.6,488.8) rotate(42) scale(0.648)"/>
<use href="#fl" transform="translate(885.5,484.2) rotate(120) scale(0.648)"/>
<use href="#fl" transform="translate(885.5,603.6) rotate(83) scale(1.0)"/>
<use href="#fl" transform="translate(871.5,652.8) rotate(68) scale(0.702)"/>
<use href="#fl" transform="translate(691.5,247.0) rotate(86) scale(0.648)"/>
<use href="#fl" transform="translate(671.6,282.8) rotate(3) scale(0.702)"/>
<use href="#fl" transform="translate(745.8,289.4) rotate(103) scale(0.648)"/>
<use href="#fl" transform="translate(715.4,313.3) rotate(13) scale(0.648)"/>
<g font-family="Liberation Serif" font-style="italic" font-size="34" fill="#111" stroke="#111" stroke-width="0.7"><text x="0" y="10.2" font-size="34" text-anchor="middle" textLength="95" lengthAdjust="spacingAndGlyphs" transform="translate(357.2,285) rotate(-21)">Ecriture</text>
<text x="0" y="10.2" font-size="34" text-anchor="middle" textLength="150" lengthAdjust="spacingAndGlyphs" transform="translate(381.5,341) rotate(-21)">quotidienne</text>
<text x="0" y="10.2" font-size="34" text-anchor="middle" textLength="141" lengthAdjust="spacingAndGlyphs" transform="translate(556,270.4) rotate(19.5)">Confiance en</text>
<text x="0" y="11.7" font-size="39" text-anchor="middle" textLength="85" lengthAdjust="spacingAndGlyphs" transform="translate(535,323) rotate(19.5)">Allah</text>
<text x="0" y="10.2" font-size="34" text-anchor="middle" textLength="154" lengthAdjust="spacingAndGlyphs" transform="translate(739.4,388.4) rotate(47)">Confiance en</text>
<text x="0" y="10.2" font-size="34" text-anchor="middle" textLength="40" lengthAdjust="spacingAndGlyphs" transform="translate(698.6,429.3) rotate(47)">soi</text>
<text x="0" y="11.1" font-size="37" text-anchor="middle" textLength="125" lengthAdjust="spacingAndGlyphs" transform="translate(826,586) rotate(84)">Mindset</text>
<text x="0" y="10.8" font-size="36" text-anchor="middle" textLength="149" lengthAdjust="spacingAndGlyphs" transform="translate(803.8,792.2) rotate(116)">Discipline</text>
<text x="0" y="10.2" font-size="34" text-anchor="middle" textLength="164" lengthAdjust="spacingAndGlyphs" transform="translate(656.2,961.8) rotate(145.5)">Organisation</text>
<text x="0" y="10.2" font-size="34" text-anchor="middle" textLength="135" lengthAdjust="spacingAndGlyphs" transform="translate(439,1032) rotate(180)">Énoncé de</text>
<text x="0" y="10.2" font-size="34" text-anchor="middle" textLength="105" lengthAdjust="spacingAndGlyphs" transform="translate(435,961) rotate(180)">mission</text>
<text x="0" y="10.2" font-size="34" text-anchor="middle" textLength="175" lengthAdjust="spacingAndGlyphs" transform="translate(255,960.4) rotate(215)">Alimentation</text>
<text x="0" y="12.0" font-size="40" text-anchor="middle" textLength="74" lengthAdjust="spacingAndGlyphs" transform="translate(108,793.5) rotate(248)">Sport</text>
<text x="0" y="10.2" font-size="34" text-anchor="middle" textLength="114" lengthAdjust="spacingAndGlyphs" transform="translate(58,573.5) rotate(-88)">Ramadan</text>
<text x="0" y="10.2" font-size="34" text-anchor="middle" textLength="60" lengthAdjust="spacingAndGlyphs" transform="translate(111,574) rotate(-88)">idéal</text>
<text x="0" y="10.2" font-size="34" text-anchor="middle" textLength="100" lengthAdjust="spacingAndGlyphs" transform="translate(167.7,392.4) rotate(-49)">Lecture</text></g>
<path d="M346.7,260.8 L346.5,260.9 L346.3,261.0 L346.1,261.1 L345.9,261.3 L345.6,261.4 L345.4,261.5 L345.2,261.6 L345.0,261.7 L344.8,261.8 L344.5,261.9 L344.3,262.1 L344.1,262.2 L343.9,262.3 L343.7,262.4 L343.4,262.5 L343.2,262.6 L343.0,262.7 L342.8,262.9 L342.5,263.0 L342.3,263.1 L342.1,263.2 L341.9,263.3 L341.6,263.4 L341.4,263.5 L341.2,263.6 L341.0,263.8 L340.7,263.9 L340.5,264.0 L340.3,264.1 L340.1,264.2 L339.8,264.3 L339.6,264.4 L339.4,264.5 L339.1,264.7 L338.9,264.8 L338.7,264.9 L338.5,265.0 L338.2,265.1 L338.0,265.2 L337.8,265.3 L337.5,265.4 L337.3,265.6 L337.1,265.7 L336.8,265.8 L336.6,265.9 L336.4,266.0 L336.1,266.1 L335.9,266.2 L335.7,266.3 L335.4,266.5 L335.2,266.6 L335.0,266.7 L334.7,266.8 L334.5,266.9 L334.3,267.0 L334.0,267.1 L333.8,267.3 L333.5,267.4 L333.3,267.5 L333.1,267.6" fill="none" stroke="#D0141C" stroke-width="1.2" stroke-linecap="round"/>
<path d="M333.1,267.6 L332.6,267.8 L332.1,268.0 L331.7,268.3 L331.2,268.5 L330.7,268.7 L330.3,268.9 L329.8,269.2 L329.3,269.4 L328.8,269.6 L328.4,269.8 L327.9,270.1 L327.4,270.3 L326.9,270.5 L326.4,270.8 L326.0,271.0 L325.5,271.3 L325.0,271.5 L324.5,271.7 L324.0,272.0 L323.5,272.2 L323.0,272.5 L322.5,272.7 L322.0,273.0 L321.5,273.3 L321.0,273.5 L320.5,273.8 L320.0,274.1 L319.5,274.3 L319.0,274.6 L318.5,274.9 L318.0,275.1 L317.5,275.4 L317.0,275.7 L316.5,276.0 L316.0,276.3 L315.5,276.6 L315.0,276.9 L314.5,277.1 L314.0,277.4 L313.5,277.8 L313.0,278.1 L312.5,278.4 L311.9,278.7 L311.4,279.0 L310.9,279.3 L310.4,279.6 L309.9,280.0 L309.4,280.3 L308.9,280.6 L308.4,280.9 L307.9,281.3 L307.4,281.6 L306.9,282.0 L306.4,282.3 L305.9,282.7 L305.4,283.0 L304.9,283.4 L304.4,283.7 L304.0,284.1 L303.5,284.5" fill="none" stroke="#D0141C" stroke-width="1.9" stroke-linecap="round"/>
<path d="M303.5,284.5 L296.9,290.0 L291.1,296.2 L286.5,302.8 L283.2,309.6 L281.4,316.5 L279.7,323.4 L278.1,330.5 L277.1,337.6 L277.2,344.6 L279.1,351.0 L282.4,356.7 L286.6,361.9 L291.4,366.6 L297.0,370.7 L303.1,374.2 L309.9,377.2 L317.3,379.4 L325.0,381.0 L333.2,381.9 L341.7,382.1 L350.5,381.6 L359.4,380.4 L368.4,378.6 L377.4,376.0 L386.4,372.8 L395.2,369.0 L403.7,364.7 L412.0,359.8 L419.9,354.3 L427.3,348.5 L434.2,342.2 L440.5,335.6 L446.2,328.7 L451.2,321.6 L455.5,314.4 L459.0,307.0 L461.7,299.6 L463.6,292.3 L464.7,285.0 L464.9,278.0 L464.2,271.1 L462.7,264.6 L460.4,258.4 L457.2,252.6 L453.3,247.3 L448.6,242.5 L443.2,238.2 L437.1,234.5 L430.5,231.5 L423.3,229.0 L415.6,227.3 L407.5,226.2 L399.1,225.9 L390.4,226.2 L381.5,227.2 L372.5,229.0 L363.5,231.2 L354.4,233.8 L345.2,236.8 L336.1,240.4" fill="none" stroke="#D0141C" stroke-width="2.5" stroke-linecap="round"/>
<path d="M336.1,240.4 L335.4,240.7 L334.8,241.0 L334.2,241.3 L333.6,241.5 L333.0,241.8 L332.4,242.1 L331.8,242.4 L331.2,242.7 L330.6,243.1 L330.0,243.4 L329.4,243.7 L328.8,244.0 L328.2,244.3 L327.6,244.7 L327.0,245.0 L326.4,245.3 L325.9,245.7 L325.3,246.0 L324.7,246.4 L324.1,246.7 L323.5,247.1 L323.0,247.4 L322.4,247.8 L321.8,248.2 L321.3,248.6 L320.7,248.9 L320.2,249.3 L319.6,249.7 L319.1,250.1 L318.5,250.5 L317.9,250.8 L317.4,251.2 L316.8,251.6 L316.2,251.9 L315.7,252.3 L315.1,252.7 L314.5,253.0 L313.9,253.4 L313.3,253.8 L312.7,254.1 L312.1,254.5 L311.5,254.8 L310.9,255.2 L310.3,255.5 L309.7,255.9 L309.1,256.2 L308.5,256.6 L307.9,257.0 L307.3,257.3 L306.6,257.7 L306.0,258.0 L305.4,258.4 L304.7,258.7 L304.1,259.1 L303.5,259.5 L302.9,259.9 L302.2,260.2 L301.6,260.6 L301.0,261.0 L300.3,261.4" fill="none" stroke="#D0141C" stroke-width="1.9" stroke-linecap="round"/>
<path d="M300.3,261.4 L300.0,261.6 L299.6,261.8 L299.3,262.0 L298.9,262.2 L298.6,262.4 L298.3,262.6 L297.9,262.9 L297.6,263.1 L297.2,263.3 L296.9,263.5 L296.6,263.7 L296.2,264.0 L295.9,264.2 L295.6,264.4 L295.2,264.6 L294.9,264.9 L294.6,265.1 L294.2,265.3 L293.9,265.6 L293.6,265.8 L293.2,266.0 L292.9,266.3 L292.6,266.5 L292.3,266.8 L292.0,267.0 L291.6,267.2 L291.3,267.5 L291.0,267.7 L290.7,268.0 L290.4,268.2 L290.1,268.5 L289.8,268.7 L289.5,269.0 L289.2,269.2 L288.9,269.5 L288.6,269.8 L288.3,270.0 L288.0,270.3 L287.7,270.6 L287.4,270.8 L287.1,271.1 L286.8,271.4 L286.6,271.6 L286.3,271.9 L286.0,272.2 L285.7,272.4 L285.5,272.7 L285.2,273.0 L285.0,273.3 L284.7,273.6 L284.4,273.8 L284.2,274.1 L284.0,274.4 L283.7,274.7 L283.5,275.0 L283.2,275.3 L283.0,275.6 L282.8,275.8 L282.5,276.1 L282.3,276.4" fill="none" stroke="#D0141C" stroke-width="1.2" stroke-linecap="round"/>
</svg>
</body></html>
